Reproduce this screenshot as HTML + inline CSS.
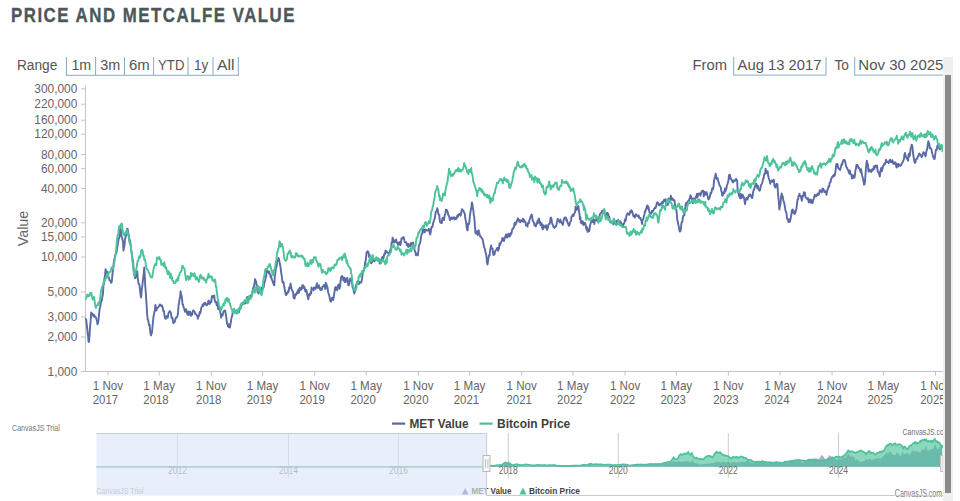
<!DOCTYPE html><html><head><meta charset="utf-8"><title>Price and Metcalfe Value</title><style>html,body{margin:0;padding:0;background:#fff;width:960px;height:501px;overflow:hidden;}svg{position:absolute;left:0;top:0;font-family:"Liberation Sans",sans-serif;}</style></head><body>
<svg width="960" height="501" viewBox="0 0 960 501">
<defs><clipPath id="plot"><rect x="85" y="80" width="858" height="292"/></clipPath><clipPath id="cv"><rect x="0" y="0" width="943" height="501"/></clipPath></defs>
<text transform="translate(11.0,21.7) scale(0.86,1)" font-size="19.6" font-weight="bold" fill="#4d5758" letter-spacing="1.75" stroke="#4d5758" stroke-width="0.35">PRICE AND METCALFE VALUE</text>
<text transform="translate(16.90,69.80) scale(0.8960,1)" font-size="15.3" font-weight="normal" fill="#555555" >Range</text>
<text transform="translate(71.40,69.80) scale(0.9315,1)" font-size="15.3" font-weight="normal" fill="#555555" >1m</text>
<text transform="translate(100.30,69.80) scale(0.9410,1)" font-size="15.3" font-weight="normal" fill="#555555" >3m</text>
<text transform="translate(128.90,69.80) scale(0.9786,1)" font-size="15.3" font-weight="normal" fill="#555555" >6m</text>
<text transform="translate(158.10,69.80) scale(0.8594,1)" font-size="15.3" font-weight="normal" fill="#555555" >YTD</text>
<text transform="translate(194.00,69.80) scale(0.8849,1)" font-size="15.3" font-weight="normal" fill="#555555" >1y</text>
<text transform="translate(216.90,69.80) scale(1.0291,1)" font-size="15.3" font-weight="normal" fill="#555555" >All</text>
<rect x="65.9" y="57" width="1" height="18.5" fill="#86acc6"/>
<rect x="95.1" y="57" width="1" height="18.5" fill="#86acc6"/>
<rect x="124.0" y="57" width="1" height="18.5" fill="#86acc6"/>
<rect x="153.1" y="57" width="1" height="18.5" fill="#86acc6"/>
<rect x="187.5" y="57" width="1" height="18.5" fill="#86acc6"/>
<rect x="212.5" y="57" width="1" height="18.5" fill="#86acc6"/>
<rect x="237.8" y="57" width="1" height="18.5" fill="#86acc6"/>
<rect x="65.9" y="74.8" width="172.9" height="1" fill="#86acc6"/>
<text transform="translate(692.60,69.80) scale(0.9637,1)" font-size="15.3" font-weight="normal" fill="#555555" >From</text>
<text transform="translate(834.50,69.80) scale(0.8973,1)" font-size="15.3" font-weight="normal" fill="#555555" >To</text>
<rect x="733.2" y="57" width="1" height="18" fill="#86acc6"/>
<rect x="825.5" y="57" width="1" height="18" fill="#86acc6"/>
<rect x="733.2" y="74.6" width="93.3" height="1" fill="#86acc6"/>
<rect x="854.2" y="57" width="1" height="18" fill="#86acc6"/>
<rect x="854.2" y="74.6" width="90" height="1" fill="#86acc6"/>
<g clip-path="url(#cv)">
<text transform="translate(737.60,69.80) scale(0.9668,1)" font-size="15.3" font-weight="normal" fill="#555555" >Aug 13 2017</text>
<text transform="translate(858.30,69.80) scale(0.9820,1)" font-size="15.3" font-weight="normal" fill="#555555" >Nov 30 2025</text>
</g>
<rect x="85" y="85.6" width="1" height="286.4" fill="#c4c4c4"/>
<rect x="81" y="88.4" width="4" height="1" fill="#c4c4c4"/>
<text transform="translate(34.36,93.00) scale(0.9900,1)" font-size="12" font-weight="normal" fill="#666666" >300,000</text>
<rect x="81" y="103.7" width="4" height="1" fill="#c4c4c4"/>
<text transform="translate(34.36,108.30) scale(0.9900,1)" font-size="12" font-weight="normal" fill="#666666" >220,000</text>
<rect x="81" y="119.7" width="4" height="1" fill="#c4c4c4"/>
<text transform="translate(34.36,124.30) scale(0.9900,1)" font-size="12" font-weight="normal" fill="#666666" >160,000</text>
<rect x="81" y="133.7" width="4" height="1" fill="#c4c4c4"/>
<text transform="translate(34.36,138.30) scale(0.9900,1)" font-size="12" font-weight="normal" fill="#666666" >120,000</text>
<rect x="81" y="154.1" width="4" height="1" fill="#c4c4c4"/>
<text transform="translate(40.96,158.70) scale(0.9900,1)" font-size="12" font-weight="normal" fill="#666666" >80,000</text>
<rect x="81" y="168.1" width="4" height="1" fill="#c4c4c4"/>
<text transform="translate(40.96,172.70) scale(0.9900,1)" font-size="12" font-weight="normal" fill="#666666" >60,000</text>
<rect x="81" y="188.0" width="4" height="1" fill="#c4c4c4"/>
<text transform="translate(40.96,192.60) scale(0.9900,1)" font-size="12" font-weight="normal" fill="#666666" >40,000</text>
<rect x="81" y="222.2" width="4" height="1" fill="#c4c4c4"/>
<text transform="translate(40.96,226.80) scale(0.9900,1)" font-size="12" font-weight="normal" fill="#666666" >20,000</text>
<rect x="81" y="236.5" width="4" height="1" fill="#c4c4c4"/>
<text transform="translate(40.96,241.10) scale(0.9900,1)" font-size="12" font-weight="normal" fill="#666666" >15,000</text>
<rect x="81" y="256.5" width="4" height="1" fill="#c4c4c4"/>
<text transform="translate(40.96,261.10) scale(0.9900,1)" font-size="12" font-weight="normal" fill="#666666" >10,000</text>
<rect x="81" y="291.5" width="4" height="1" fill="#c4c4c4"/>
<text transform="translate(47.57,296.10) scale(0.9900,1)" font-size="12" font-weight="normal" fill="#666666" >5,000</text>
<rect x="81" y="316.5" width="4" height="1" fill="#c4c4c4"/>
<text transform="translate(47.57,321.10) scale(0.9900,1)" font-size="12" font-weight="normal" fill="#666666" >3,000</text>
<rect x="81" y="336.5" width="4" height="1" fill="#c4c4c4"/>
<text transform="translate(47.57,341.10) scale(0.9900,1)" font-size="12" font-weight="normal" fill="#666666" >2,000</text>
<rect x="81" y="370.9" width="4" height="1" fill="#c4c4c4"/>
<text transform="translate(47.57,375.50) scale(0.9900,1)" font-size="12" font-weight="normal" fill="#666666" >1,000</text>
<text transform="translate(28.3,228.5) rotate(-90)" text-anchor="middle" font-size="14.3" fill="#666666">Value</text>
<rect x="85" y="371" width="858" height="1" fill="#c4c4c4"/>
<g clip-path="url(#cv)">
<rect x="107.5" y="371.5" width="1" height="4" fill="#c4c4c4"/>
<text transform="translate(92.75,389.50) scale(0.9700,1)" font-size="12" font-weight="normal" fill="#666666" >1 Nov</text>
<text transform="translate(92.75,403.50) scale(0.9500,1)" font-size="12" font-weight="normal" fill="#666666" >2017</text>
<rect x="158.7" y="371.5" width="1" height="4" fill="#c4c4c4"/>
<text transform="translate(143.37,389.50) scale(0.9700,1)" font-size="12" font-weight="normal" fill="#666666" >1 May</text>
<text transform="translate(143.37,403.50) scale(0.9500,1)" font-size="12" font-weight="normal" fill="#666666" >2018</text>
<rect x="210.8" y="371.5" width="1" height="4" fill="#c4c4c4"/>
<text transform="translate(196.12,389.50) scale(0.9700,1)" font-size="12" font-weight="normal" fill="#666666" >1 Nov</text>
<text transform="translate(196.12,403.50) scale(0.9500,1)" font-size="12" font-weight="normal" fill="#666666" >2018</text>
<rect x="262.1" y="371.5" width="1" height="4" fill="#c4c4c4"/>
<text transform="translate(246.73,389.50) scale(0.9700,1)" font-size="12" font-weight="normal" fill="#666666" >1 May</text>
<text transform="translate(246.73,403.50) scale(0.9500,1)" font-size="12" font-weight="normal" fill="#666666" >2019</text>
<rect x="314.2" y="371.5" width="1" height="4" fill="#c4c4c4"/>
<text transform="translate(299.49,389.50) scale(0.9700,1)" font-size="12" font-weight="normal" fill="#666666" >1 Nov</text>
<text transform="translate(299.49,403.50) scale(0.9500,1)" font-size="12" font-weight="normal" fill="#666666" >2019</text>
<rect x="365.7" y="371.5" width="1" height="4" fill="#c4c4c4"/>
<text transform="translate(350.39,389.50) scale(0.9700,1)" font-size="12" font-weight="normal" fill="#666666" >1 May</text>
<text transform="translate(350.39,403.50) scale(0.9500,1)" font-size="12" font-weight="normal" fill="#666666" >2020</text>
<rect x="417.8" y="371.5" width="1" height="4" fill="#c4c4c4"/>
<text transform="translate(403.14,389.50) scale(0.9700,1)" font-size="12" font-weight="normal" fill="#666666" >1 Nov</text>
<text transform="translate(403.14,403.50) scale(0.9500,1)" font-size="12" font-weight="normal" fill="#666666" >2020</text>
<rect x="469.1" y="371.5" width="1" height="4" fill="#c4c4c4"/>
<text transform="translate(453.75,389.50) scale(0.9700,1)" font-size="12" font-weight="normal" fill="#666666" >1 May</text>
<text transform="translate(453.75,403.50) scale(0.9500,1)" font-size="12" font-weight="normal" fill="#666666" >2021</text>
<rect x="521.2" y="371.5" width="1" height="4" fill="#c4c4c4"/>
<text transform="translate(506.51,389.50) scale(0.9700,1)" font-size="12" font-weight="normal" fill="#666666" >1 Nov</text>
<text transform="translate(506.51,403.50) scale(0.9500,1)" font-size="12" font-weight="normal" fill="#666666" >2021</text>
<rect x="572.5" y="371.5" width="1" height="4" fill="#c4c4c4"/>
<text transform="translate(557.12,389.50) scale(0.9700,1)" font-size="12" font-weight="normal" fill="#666666" >1 May</text>
<text transform="translate(557.12,403.50) scale(0.9500,1)" font-size="12" font-weight="normal" fill="#666666" >2022</text>
<rect x="624.6" y="371.5" width="1" height="4" fill="#c4c4c4"/>
<text transform="translate(609.88,389.50) scale(0.9700,1)" font-size="12" font-weight="normal" fill="#666666" >1 Nov</text>
<text transform="translate(609.88,403.50) scale(0.9500,1)" font-size="12" font-weight="normal" fill="#666666" >2022</text>
<rect x="675.8" y="371.5" width="1" height="4" fill="#c4c4c4"/>
<text transform="translate(660.49,389.50) scale(0.9700,1)" font-size="12" font-weight="normal" fill="#666666" >1 May</text>
<text transform="translate(660.49,403.50) scale(0.9500,1)" font-size="12" font-weight="normal" fill="#666666" >2023</text>
<rect x="727.9" y="371.5" width="1" height="4" fill="#c4c4c4"/>
<text transform="translate(713.24,389.50) scale(0.9700,1)" font-size="12" font-weight="normal" fill="#666666" >1 Nov</text>
<text transform="translate(713.24,403.50) scale(0.9500,1)" font-size="12" font-weight="normal" fill="#666666" >2023</text>
<rect x="779.5" y="371.5" width="1" height="4" fill="#c4c4c4"/>
<text transform="translate(764.14,389.50) scale(0.9700,1)" font-size="12" font-weight="normal" fill="#666666" >1 May</text>
<text transform="translate(764.14,403.50) scale(0.9500,1)" font-size="12" font-weight="normal" fill="#666666" >2024</text>
<rect x="831.6" y="371.5" width="1" height="4" fill="#c4c4c4"/>
<text transform="translate(816.89,389.50) scale(0.9700,1)" font-size="12" font-weight="normal" fill="#666666" >1 Nov</text>
<text transform="translate(816.89,403.50) scale(0.9500,1)" font-size="12" font-weight="normal" fill="#666666" >2024</text>
<rect x="882.9" y="371.5" width="1" height="4" fill="#c4c4c4"/>
<text transform="translate(867.51,389.50) scale(0.9700,1)" font-size="12" font-weight="normal" fill="#666666" >1 May</text>
<text transform="translate(867.51,403.50) scale(0.9500,1)" font-size="12" font-weight="normal" fill="#666666" >2025</text>
<rect x="935.0" y="371.5" width="1" height="4" fill="#c4c4c4"/>
<text transform="translate(920.26,389.50) scale(0.9700,1)" font-size="12" font-weight="normal" fill="#666666" >1 Nov</text>
<text transform="translate(920.26,403.50) scale(0.9500,1)" font-size="12" font-weight="normal" fill="#666666" >2025</text>
</g>
<g clip-path="url(#plot)" fill="none" stroke-width="1.9" stroke-linejoin="round">
<path d="M85.3,318.0 L85.8,319.4 L86.2,319.9 L86.7,324.4 L87.2,328.1 L87.6,332.6 L88.1,336.6 L88.5,341.6 L89.0,342.0 L89.5,336.2 L90.1,326.3 L90.7,320.4 L91.2,312.4 L91.7,313.3 L92.3,314.8 L92.8,314.2 L93.4,315.9 L93.9,314.8 L94.4,316.8 L94.9,316.4 L95.4,316.6 L96.0,317.7 L96.5,319.4 L97.0,321.1 L97.5,324.3 L98.0,323.0 L98.6,319.4 L99.1,313.3 L99.7,308.9 L100.2,306.5 L100.7,304.0 L101.3,299.9 L101.8,300.8 L102.4,296.5 L102.9,294.5 L103.4,286.1 L104.0,282.5 L104.5,278.7 L105.1,274.2 L105.6,269.3 L106.1,271.8 L106.7,273.3 L107.2,271.7 L107.8,273.7 L108.3,276.5 L108.8,277.6 L109.4,279.9 L109.9,280.8 L110.5,280.8 L111.0,282.9 L111.5,282.4 L111.9,280.9 L112.3,275.8 L112.8,271.7 L113.3,266.9 L113.9,261.6 L114.4,259.8 L114.9,256.9 L115.4,254.6 L116.0,253.2 L116.5,252.5 L117.0,249.4 L117.5,246.0 L118.0,243.2 L118.5,239.8 L118.9,238.2 L119.4,237.3 L119.9,230.6 L120.4,227.9 L120.9,231.4 L121.4,236.0 L122.0,237.3 L122.5,239.5 L123.0,241.6 L123.5,250.6 L124.0,247.7 L124.5,245.4 L125.0,239.0 L125.5,237.6 L126.1,234.8 L126.6,231.0 L127.1,228.6 L127.6,228.9 L128.1,232.5 L128.7,234.9 L129.2,238.5 L129.7,239.8 L130.3,243.0 L130.8,246.0 L131.3,250.4 L131.8,253.5 L132.2,256.6 L132.7,260.0 L133.2,262.7 L133.7,270.4 L134.1,273.3 L134.6,275.1 L135.1,278.3 L135.6,277.5 L136.2,271.9 L136.7,272.4 L137.2,271.2 L137.7,277.9 L138.2,281.5 L138.7,284.1 L139.1,284.0 L139.6,286.1 L140.1,290.7 L140.6,295.1 L141.1,297.5 L141.6,291.6 L142.2,286.7 L142.7,282.4 L143.2,278.2 L143.8,272.7 L144.3,267.4 L144.8,276.2 L145.2,285.5 L145.7,291.1 L146.2,299.3 L146.7,306.1 L147.1,313.4 L147.6,319.2 L148.1,320.0 L148.6,322.7 L149.1,325.6 L149.6,324.8 L150.0,329.8 L150.5,333.3 L151.0,335.4 L151.5,333.5 L152.0,332.6 L152.5,326.7 L153.0,321.7 L153.4,317.3 L153.9,314.9 L154.4,311.9 L154.9,309.9 L155.4,304.9 L155.9,308.0 L156.4,310.5 L156.9,308.1 L157.4,308.0 L157.9,307.6 L158.4,307.1 L158.9,306.1 L159.4,305.7 L159.9,304.4 L160.4,305.3 L160.9,305.5 L161.4,306.1 L161.9,305.3 L162.4,306.8 L162.9,308.8 L163.4,311.4 L163.9,310.9 L164.3,313.9 L164.8,317.0 L165.3,318.8 L165.8,318.8 L166.3,317.1 L166.8,316.1 L167.3,316.6 L167.8,317.7 L168.2,315.0 L168.7,312.4 L169.2,312.3 L169.7,311.1 L170.2,311.3 L170.7,312.4 L171.2,314.7 L171.6,317.9 L172.1,317.4 L172.6,318.2 L173.1,321.9 L173.6,323.2 L174.1,322.0 L174.6,322.1 L175.1,320.9 L175.6,318.3 L176.0,318.1 L176.5,317.0 L177.0,317.1 L177.5,315.7 L178.0,313.1 L178.5,305.7 L179.1,302.4 L179.6,299.0 L180.1,296.7 L180.6,291.3 L181.1,294.5 L181.6,295.7 L182.1,299.5 L182.5,304.3 L183.0,304.4 L183.5,307.1 L184.0,308.0 L184.5,309.9 L185.0,311.8 L185.6,311.2 L186.1,309.2 L186.6,311.0 L187.1,313.3 L187.6,314.6 L188.2,315.1 L188.7,311.4 L189.2,312.9 L189.7,314.5 L190.2,311.6 L190.7,313.7 L191.1,315.8 L191.6,314.9 L192.1,314.9 L192.6,312.3 L193.1,310.5 L193.6,310.6 L194.1,311.2 L194.7,312.0 L195.2,313.9 L195.7,313.7 L196.2,314.4 L196.7,315.4 L197.3,315.5 L197.8,318.7 L198.3,316.8 L198.8,316.3 L199.3,314.2 L199.7,311.9 L200.2,313.4 L200.7,311.6 L201.2,308.2 L201.7,306.8 L202.2,306.2 L202.6,304.8 L203.1,306.1 L203.6,303.4 L204.1,304.1 L204.6,304.4 L205.1,302.6 L205.7,303.7 L206.2,304.1 L206.7,305.4 L207.2,304.9 L207.7,304.7 L208.2,301.4 L208.7,300.5 L209.3,302.7 L209.8,304.0 L210.3,302.7 L210.8,301.2 L211.3,301.9 L211.8,296.9 L212.2,295.9 L212.7,297.3 L213.2,296.9 L213.7,296.6 L214.2,295.4 L214.7,300.7 L215.3,301.9 L215.8,301.4 L216.3,303.3 L216.8,305.4 L217.3,302.4 L217.8,306.9 L218.2,309.1 L218.7,306.1 L219.2,309.7 L219.7,307.8 L220.2,312.1 L220.6,313.5 L221.1,317.7 L221.6,314.9 L222.1,314.6 L222.6,315.5 L223.1,313.0 L223.6,311.4 L224.1,310.9 L224.6,310.8 L225.1,310.4 L225.6,313.1 L226.1,316.5 L226.5,318.7 L227.0,323.6 L227.5,323.3 L228.0,326.5 L228.5,325.3 L228.9,327.3 L229.4,324.5 L229.9,327.5 L230.4,324.7 L230.9,321.8 L231.3,319.0 L231.8,316.9 L232.3,315.3 L232.8,310.9 L233.3,311.6 L233.8,311.8 L234.4,311.7 L234.9,310.5 L235.4,311.1 L235.9,312.3 L236.4,311.5 L236.9,310.3 L237.4,312.4 L238.0,312.6 L238.5,312.3 L239.0,312.3 L239.5,308.9 L240.0,308.1 L240.5,308.8 L241.0,306.1 L241.6,305.0 L242.1,304.8 L242.6,304.3 L243.1,302.6 L243.6,303.8 L244.1,302.4 L244.5,302.9 L245.0,303.6 L245.5,303.1 L246.0,302.7 L246.5,299.4 L246.9,297.3 L247.4,297.1 L247.9,298.9 L248.4,300.9 L248.9,297.5 L249.4,298.0 L250.0,296.3 L250.5,295.4 L251.0,295.6 L251.5,296.7 L252.0,294.6 L252.5,293.6 L253.0,288.4 L253.6,287.5 L254.1,285.9 L254.6,282.4 L255.1,279.1 L255.6,280.9 L256.1,281.6 L256.5,284.3 L257.0,286.5 L257.5,291.8 L258.0,291.7 L258.5,293.6 L258.9,292.3 L259.4,291.7 L259.9,292.0 L260.4,289.7 L260.9,291.2 L261.3,291.0 L261.8,287.8 L262.3,289.5 L262.8,288.6 L263.3,287.1 L263.7,287.2 L264.2,283.2 L264.7,281.8 L265.2,280.5 L265.7,276.4 L266.1,276.8 L266.6,271.8 L267.1,270.7 L267.6,271.8 L268.1,271.2 L268.6,272.9 L269.2,271.7 L269.7,274.3 L270.2,274.1 L270.7,277.3 L271.2,275.9 L271.7,279.2 L272.2,280.3 L272.8,282.0 L273.3,283.3 L273.8,284.8 L274.3,285.3 L274.8,276.3 L275.2,274.4 L275.7,269.6 L276.2,267.3 L276.7,266.1 L277.1,261.7 L277.6,260.8 L278.1,259.9 L278.5,258.0 L279.0,259.2 L279.5,262.1 L280.0,264.4 L280.5,266.9 L281.1,272.6 L281.6,274.8 L282.1,279.5 L282.6,282.6 L283.1,281.5 L283.6,282.7 L284.1,285.9 L284.7,289.0 L285.2,292.0 L285.7,294.4 L286.2,295.1 L286.7,294.2 L287.2,292.6 L287.6,293.0 L288.1,290.9 L288.6,291.8 L289.1,287.5 L289.6,288.6 L290.0,287.4 L290.5,283.5 L291.0,285.9 L291.5,288.4 L292.0,290.3 L292.5,290.4 L293.1,292.5 L293.6,297.8 L294.1,297.7 L294.6,298.5 L295.1,294.9 L295.6,294.0 L296.0,294.8 L296.5,294.2 L297.0,292.5 L297.5,291.3 L298.0,293.1 L298.4,289.5 L298.9,292.7 L299.4,289.6 L299.9,287.6 L300.4,289.4 L300.8,289.9 L301.3,287.4 L301.8,288.9 L302.3,285.4 L302.8,285.0 L303.2,288.0 L303.7,287.1 L304.2,286.4 L304.7,288.2 L305.2,291.1 L305.7,291.8 L306.3,290.0 L306.8,292.0 L307.3,295.0 L307.8,296.9 L308.3,299.4 L308.8,296.5 L309.2,294.4 L309.7,293.7 L310.2,294.9 L310.7,291.8 L311.2,293.4 L311.6,287.4 L312.1,289.7 L312.6,289.1 L313.1,289.3 L313.6,290.2 L314.0,287.5 L314.5,287.7 L315.0,288.3 L315.5,289.0 L316.0,286.8 L316.4,285.5 L316.9,283.2 L317.4,287.7 L317.9,287.9 L318.4,287.4 L318.9,285.2 L319.3,288.0 L319.8,287.2 L320.3,290.0 L320.8,288.9 L321.3,289.3 L321.8,289.8 L322.3,287.0 L322.8,286.8 L323.3,286.3 L323.8,284.9 L324.3,286.2 L324.8,286.5 L325.3,289.1 L325.8,282.8 L326.3,283.8 L326.8,286.1 L327.3,286.4 L327.8,289.9 L328.2,292.4 L328.7,294.0 L329.2,295.2 L329.8,298.3 L330.3,301.0 L330.9,301.8 L331.4,300.4 L331.8,298.6 L332.3,297.7 L332.7,299.2 L333.2,300.0 L333.7,297.4 L334.2,293.5 L334.6,291.2 L335.1,287.7 L335.6,286.9 L336.1,287.8 L336.6,290.0 L337.1,290.3 L337.6,287.0 L338.0,285.9 L338.5,284.5 L339.0,285.7 L339.5,288.9 L340.0,286.6 L340.5,281.7 L340.9,278.8 L341.4,276.4 L341.8,277.1 L342.3,276.1 L342.8,277.1 L343.3,280.5 L343.8,278.4 L344.4,277.7 L344.9,282.1 L345.4,282.1 L345.9,280.9 L346.4,278.5 L346.9,278.8 L347.3,277.9 L347.8,282.0 L348.3,285.4 L348.8,285.3 L349.3,283.1 L349.7,280.5 L350.2,278.4 L350.7,279.3 L351.2,278.9 L351.7,282.1 L352.2,284.5 L352.8,287.7 L353.3,288.7 L353.8,291.6 L354.3,293.5 L354.8,291.9 L355.3,289.1 L355.8,287.3 L356.4,284.3 L356.9,283.2 L357.4,281.6 L357.9,280.9 L358.4,283.0 L358.9,284.1 L359.4,281.8 L360.0,282.4 L360.5,282.2 L361.0,282.8 L361.5,281.3 L362.0,279.2 L362.5,275.2 L363.0,271.4 L363.6,270.8 L364.1,269.8 L364.6,266.9 L365.1,262.4 L365.6,261.1 L366.1,257.5 L366.5,252.5 L367.0,252.9 L367.5,251.1 L368.0,251.8 L368.5,252.2 L369.0,256.8 L369.6,254.9 L370.1,260.5 L370.6,262.2 L371.1,263.3 L371.6,262.9 L372.1,262.0 L372.5,260.7 L373.0,260.9 L373.5,260.4 L374.0,259.1 L374.5,261.3 L374.9,259.2 L375.4,258.6 L375.9,259.6 L376.4,259.0 L376.9,258.9 L377.3,260.3 L377.8,259.9 L378.3,258.4 L378.8,259.6 L379.3,260.2 L379.7,263.6 L380.2,261.0 L380.7,262.3 L381.2,260.1 L381.7,258.6 L382.1,257.3 L382.6,257.0 L383.1,257.3 L383.6,258.2 L384.1,254.2 L384.5,254.8 L385.0,253.9 L385.5,250.7 L386.0,250.6 L386.5,252.4 L387.0,252.0 L387.6,252.8 L388.1,252.5 L388.6,254.0 L389.1,254.2 L389.6,254.2 L390.1,250.2 L390.6,249.0 L391.1,248.0 L391.6,242.6 L392.1,242.6 L392.6,237.6 L393.1,238.9 L393.6,240.3 L394.1,242.7 L394.6,242.2 L395.1,241.1 L395.6,240.3 L396.1,239.5 L396.6,242.6 L397.1,242.9 L397.6,242.5 L398.1,244.7 L398.6,244.8 L399.1,243.0 L399.6,242.1 L400.0,244.5 L400.5,245.1 L401.0,242.3 L401.5,238.3 L402.0,238.8 L402.4,238.3 L402.9,238.0 L403.4,237.0 L403.9,237.8 L404.4,240.4 L404.8,242.0 L405.3,242.4 L405.8,242.1 L406.3,242.4 L406.8,245.0 L407.2,243.9 L407.7,245.5 L408.2,247.0 L408.7,244.0 L409.2,246.0 L409.6,245.7 L410.1,245.5 L410.6,246.4 L411.1,242.9 L411.6,243.2 L412.0,243.6 L412.5,244.5 L413.0,242.4 L413.5,244.6 L414.0,246.0 L414.4,249.2 L414.9,251.1 L415.4,251.7 L415.9,255.3 L416.4,254.3 L416.8,253.7 L417.3,254.3 L417.8,255.4 L418.3,251.9 L418.8,246.3 L419.3,244.8 L419.9,243.3 L420.4,241.9 L420.9,237.6 L421.4,235.0 L421.9,233.9 L422.4,233.2 L422.8,229.8 L423.3,229.6 L423.8,229.3 L424.3,232.4 L424.8,232.3 L425.2,229.4 L425.7,230.3 L426.2,229.8 L426.7,230.1 L427.2,230.6 L427.7,230.6 L428.3,230.5 L428.8,228.8 L429.3,230.8 L429.8,233.4 L430.3,234.5 L430.8,231.3 L431.2,228.2 L431.7,226.8 L432.2,227.2 L432.7,225.8 L433.1,222.9 L433.6,222.0 L434.1,219.9 L434.6,218.9 L435.1,216.0 L435.7,211.9 L436.2,211.3 L436.7,211.2 L437.2,208.3 L437.7,209.7 L438.2,213.4 L438.7,214.2 L439.3,215.2 L439.8,220.8 L440.3,222.6 L440.8,222.8 L441.3,221.2 L441.8,223.1 L442.3,218.5 L442.9,217.7 L443.4,218.9 L443.9,220.1 L444.4,217.0 L444.9,214.5 L445.4,213.9 L445.8,209.6 L446.3,210.8 L446.8,210.1 L447.3,210.7 L447.8,212.9 L448.3,215.0 L448.9,215.9 L449.4,217.3 L449.9,220.2 L450.4,218.5 L450.9,218.8 L451.4,217.5 L451.9,219.1 L452.5,217.7 L453.0,218.2 L453.5,217.9 L454.0,217.2 L454.5,219.6 L455.0,217.7 L455.5,218.9 L456.0,218.4 L456.5,218.8 L457.0,216.5 L457.5,215.3 L458.0,216.8 L458.5,214.5 L459.0,214.7 L459.6,214.1 L460.1,213.8 L460.6,215.7 L461.1,213.5 L461.6,210.7 L462.1,209.1 L462.6,210.3 L463.2,210.5 L463.7,211.5 L464.2,212.8 L464.7,213.2 L465.2,217.6 L465.7,220.7 L466.1,222.0 L466.6,226.4 L467.1,229.7 L467.6,230.4 L468.1,223.8 L468.5,224.0 L469.0,224.2 L469.5,220.3 L470.0,215.2 L470.5,211.8 L470.9,209.8 L471.4,206.9 L471.9,202.5 L472.4,203.8 L472.9,209.1 L473.3,209.6 L473.8,215.6 L474.3,217.3 L474.9,226.3 L475.5,233.3 L476.0,231.9 L476.5,233.6 L477.0,231.1 L477.6,235.2 L478.1,231.8 L478.6,230.3 L479.1,232.3 L479.6,234.0 L480.1,236.2 L480.6,236.2 L481.2,237.1 L481.7,238.1 L482.2,238.7 L482.7,239.6 L483.2,242.3 L483.7,245.1 L484.2,247.4 L484.8,248.4 L485.3,251.2 L485.8,253.3 L486.3,255.4 L486.9,261.8 L487.5,264.5 L488.0,261.7 L488.5,257.6 L489.0,255.3 L489.6,255.6 L490.1,250.4 L490.6,248.0 L491.1,245.4 L491.6,248.6 L492.1,248.6 L492.5,248.4 L493.0,252.7 L493.5,255.1 L494.0,253.4 L494.5,254.5 L495.0,251.5 L495.6,250.3 L496.1,250.0 L496.6,249.7 L497.1,248.0 L497.6,248.8 L498.1,250.9 L498.5,247.5 L499.0,248.9 L499.5,243.2 L500.0,245.3 L500.5,243.3 L500.9,242.7 L501.4,241.4 L501.9,240.7 L502.4,237.9 L502.9,238.1 L503.5,240.5 L504.0,241.1 L504.5,238.9 L505.0,237.3 L505.6,235.9 L506.1,234.2 L506.6,236.7 L507.1,237.7 L507.6,236.8 L508.0,235.3 L508.5,233.6 L509.0,236.2 L509.5,236.6 L510.0,234.0 L510.4,235.5 L510.9,233.0 L511.4,233.9 L511.9,230.8 L512.4,229.1 L512.9,228.8 L513.5,227.7 L514.0,227.2 L514.5,223.3 L515.0,222.6 L515.5,224.9 L516.0,223.0 L516.4,222.7 L516.9,220.5 L517.4,220.2 L517.9,218.2 L518.4,219.2 L518.8,219.8 L519.3,221.7 L519.8,220.2 L520.3,222.3 L520.8,220.9 L521.3,220.5 L521.9,220.3 L522.4,221.3 L522.9,218.6 L523.4,221.8 L523.9,219.7 L524.4,220.5 L524.9,221.9 L525.5,222.0 L526.0,225.5 L526.5,224.8 L527.0,225.1 L527.5,226.6 L528.0,223.2 L528.4,222.5 L528.9,223.0 L529.4,220.2 L529.9,219.0 L530.4,217.0 L530.8,216.4 L531.3,215.0 L531.8,214.6 L532.3,217.8 L532.8,221.0 L533.3,221.4 L533.9,222.6 L534.4,225.1 L534.9,225.4 L535.4,226.2 L535.9,226.4 L536.4,223.3 L536.9,224.0 L537.5,220.9 L538.0,223.0 L538.5,219.0 L539.0,218.6 L539.5,222.7 L540.0,221.3 L540.5,225.1 L541.1,224.3 L541.6,223.2 L542.1,227.2 L542.6,229.3 L543.1,229.1 L543.6,225.1 L544.0,226.8 L544.5,227.3 L545.0,227.3 L545.5,227.5 L546.0,225.2 L546.4,225.9 L546.9,229.9 L547.4,229.2 L547.9,227.8 L548.4,224.6 L548.9,224.0 L549.5,223.9 L550.0,222.6 L550.5,218.2 L551.0,217.5 L551.5,219.0 L552.0,222.5 L552.5,224.6 L553.1,225.3 L553.6,227.4 L554.1,226.6 L554.6,227.9 L555.1,227.0 L555.6,226.4 L556.1,226.4 L556.7,223.2 L557.2,221.5 L557.7,218.6 L558.2,220.7 L558.7,220.6 L559.2,220.9 L559.7,222.4 L560.3,219.4 L560.8,221.2 L561.3,222.5 L561.8,223.3 L562.3,223.5 L562.8,224.9 L563.3,221.8 L563.9,219.1 L564.4,217.8 L564.9,217.8 L565.4,217.7 L565.9,217.5 L566.4,220.6 L566.9,219.5 L567.5,222.4 L568.0,223.7 L568.5,224.9 L569.0,225.9 L569.5,224.9 L570.0,222.5 L570.5,221.6 L571.0,221.0 L571.5,216.7 L572.0,216.3 L572.5,214.7 L573.0,214.8 L573.5,216.0 L574.0,214.3 L574.6,212.8 L575.1,212.2 L575.6,206.7 L576.1,210.0 L576.6,210.0 L577.1,209.3 L577.5,207.8 L578.0,206.1 L578.5,206.4 L579.0,211.5 L579.5,214.0 L579.9,219.1 L580.4,217.4 L580.9,222.9 L581.4,223.0 L581.9,223.5 L582.4,221.3 L583.0,221.8 L583.5,225.1 L584.0,222.9 L584.5,224.0 L585.0,222.9 L585.5,224.5 L586.0,227.6 L586.6,229.7 L587.1,227.1 L587.6,231.8 L588.1,231.8 L588.6,229.4 L589.1,231.2 L589.6,228.7 L590.2,224.9 L590.7,223.3 L591.2,221.7 L591.7,221.5 L592.2,220.2 L592.7,222.1 L593.2,222.0 L593.8,219.2 L594.3,224.0 L594.8,220.4 L595.3,220.0 L595.8,219.7 L596.3,220.5 L596.8,219.0 L597.4,219.3 L597.9,221.8 L598.4,219.8 L598.9,217.3 L599.4,216.6 L599.9,214.3 L600.4,213.3 L601.0,213.1 L601.5,212.7 L602.0,211.1 L602.5,210.7 L603.0,211.3 L603.5,209.8 L604.0,212.8 L604.6,212.7 L605.1,215.4 L605.6,214.3 L606.1,215.3 L606.6,216.7 L607.1,212.8 L607.6,213.0 L608.2,214.1 L608.7,218.8 L609.2,216.4 L609.7,219.9 L610.2,221.9 L610.7,222.2 L611.1,222.8 L611.6,221.5 L612.1,221.8 L612.6,222.4 L613.1,223.3 L613.5,224.3 L614.0,223.6 L614.5,223.2 L615.0,222.3 L615.5,223.7 L615.9,221.3 L616.4,220.8 L616.9,221.9 L617.4,222.3 L617.9,222.9 L618.3,219.7 L618.8,221.7 L619.3,224.1 L619.8,224.8 L620.3,221.5 L620.9,222.4 L621.4,223.9 L621.9,224.7 L622.4,226.1 L623.0,226.5 L623.5,223.4 L624.0,223.8 L624.5,222.0 L625.0,219.5 L625.5,221.1 L626.1,217.9 L626.6,215.3 L627.1,214.0 L627.6,213.3 L628.1,214.0 L628.6,213.7 L629.1,214.9 L629.7,213.8 L630.2,211.3 L630.7,212.4 L631.2,210.2 L631.7,210.5 L632.2,211.7 L632.7,213.1 L633.3,216.1 L633.8,215.4 L634.3,217.0 L634.8,217.6 L635.3,215.3 L635.8,214.2 L636.3,214.8 L636.9,215.9 L637.4,216.2 L637.9,216.4 L638.4,215.3 L638.9,216.1 L639.4,218.3 L639.9,217.9 L640.5,217.9 L641.0,220.1 L641.5,220.2 L642.0,224.0 L642.5,220.7 L643.0,219.3 L643.4,218.6 L643.9,216.2 L644.4,214.8 L644.9,211.2 L645.4,211.5 L645.8,209.2 L646.3,209.2 L646.8,206.5 L647.3,205.4 L647.8,208.6 L648.3,206.5 L648.9,209.2 L649.4,211.8 L649.9,213.6 L650.4,214.3 L650.9,213.3 L651.4,213.2 L651.9,210.9 L652.5,212.0 L653.0,210.9 L653.5,210.0 L654.0,208.9 L654.5,208.6 L655.0,207.5 L655.5,208.0 L656.1,206.7 L656.6,203.8 L657.1,202.5 L657.6,202.3 L658.1,202.7 L658.6,204.1 L659.0,205.4 L659.5,205.4 L660.0,204.9 L660.5,203.7 L661.0,204.1 L661.5,203.8 L662.1,202.0 L662.6,203.8 L663.1,202.2 L663.6,200.9 L664.1,199.8 L664.6,201.3 L665.1,199.8 L665.7,199.3 L666.2,203.8 L666.7,205.1 L667.2,203.2 L667.7,205.1 L668.2,203.3 L668.7,198.5 L669.3,200.1 L669.8,200.5 L670.3,199.2 L670.8,195.7 L671.3,197.7 L671.8,199.9 L672.3,198.4 L672.9,198.8 L673.4,200.3 L673.9,200.0 L674.4,200.5 L674.9,203.9 L675.4,207.3 L675.8,209.5 L676.3,209.6 L676.8,213.6 L677.3,220.4 L677.8,221.3 L678.3,224.6 L678.9,227.2 L679.4,230.6 L679.9,231.6 L680.4,231.2 L680.9,228.9 L681.4,223.4 L681.8,222.1 L682.3,222.0 L682.8,218.1 L683.3,215.7 L683.8,215.6 L684.3,215.3 L684.8,210.6 L685.3,207.7 L685.8,203.3 L686.3,203.7 L686.8,202.8 L687.3,205.4 L687.8,201.2 L688.4,202.5 L688.9,201.2 L689.4,198.6 L689.9,198.5 L690.4,195.3 L690.9,196.3 L691.4,197.2 L692.0,200.7 L692.5,201.9 L693.0,203.2 L693.5,198.4 L694.0,200.3 L694.5,200.7 L694.9,199.4 L695.4,198.4 L695.9,196.9 L696.4,195.8 L696.9,193.8 L697.3,197.6 L697.8,195.6 L698.3,194.2 L698.8,193.5 L699.3,193.5 L699.8,193.5 L700.4,195.8 L700.9,193.8 L701.4,192.2 L701.9,191.2 L702.4,190.9 L702.9,190.5 L703.3,191.3 L703.8,196.3 L704.3,194.5 L704.8,191.7 L705.3,194.6 L705.7,194.4 L706.2,194.2 L706.7,192.2 L707.2,195.2 L707.7,196.2 L708.1,198.4 L708.6,199.5 L709.1,198.6 L709.6,197.4 L710.1,195.6 L710.5,193.0 L711.0,193.8 L711.5,192.0 L712.0,189.4 L712.5,188.0 L713.0,189.3 L713.5,186.7 L714.1,180.6 L714.6,178.0 L715.1,176.8 L715.6,173.6 L716.1,175.7 L716.6,178.6 L717.2,179.3 L717.7,178.2 L718.2,181.2 L718.7,182.0 L719.2,184.4 L719.7,185.6 L720.2,186.1 L720.8,187.6 L721.3,190.9 L721.8,192.5 L722.3,195.8 L722.8,195.5 L723.3,193.1 L723.8,192.1 L724.4,193.1 L724.9,188.4 L725.4,191.5 L725.9,190.0 L726.4,188.7 L726.9,185.7 L727.4,184.3 L728.0,182.3 L728.5,180.1 L729.0,175.2 L729.5,174.8 L730.0,174.9 L730.5,178.9 L731.0,178.2 L731.6,180.0 L732.1,180.8 L732.6,182.1 L733.1,182.5 L733.6,180.4 L734.1,181.3 L734.6,181.0 L735.1,180.5 L735.6,179.4 L736.1,178.8 L736.6,179.9 L737.1,180.4 L737.6,188.6 L738.1,192.8 L738.7,193.6 L739.2,196.5 L739.7,196.7 L740.2,198.5 L740.7,193.8 L741.2,195.6 L741.6,198.1 L742.1,196.5 L742.6,194.7 L743.1,196.0 L743.6,196.9 L744.0,197.6 L744.5,200.8 L745.0,204.2 L745.5,201.3 L746.0,199.5 L746.5,197.9 L747.1,198.3 L747.6,199.5 L748.1,197.0 L748.6,196.2 L749.1,194.8 L749.6,195.9 L750.1,194.4 L750.7,195.3 L751.2,196.4 L751.7,197.8 L752.2,198.1 L752.7,195.6 L753.2,191.5 L753.7,190.1 L754.3,189.1 L754.8,186.1 L755.3,186.0 L755.8,184.0 L756.3,183.6 L756.8,185.7 L757.3,188.4 L757.9,185.7 L758.4,188.3 L758.9,189.6 L759.4,190.7 L759.9,190.4 L760.4,188.4 L760.9,185.5 L761.5,184.5 L762.0,183.3 L762.5,182.0 L763.0,178.8 L763.5,178.8 L764.0,175.2 L764.5,174.0 L765.1,173.8 L765.6,168.6 L766.1,173.2 L766.6,171.1 L767.1,171.3 L767.6,171.2 L768.1,175.3 L768.7,178.0 L769.2,179.3 L769.7,181.1 L770.2,183.7 L770.7,181.4 L771.2,181.7 L771.7,180.6 L772.3,181.8 L772.8,180.8 L773.3,180.3 L773.8,179.7 L774.4,185.4 L775.0,187.2 L775.5,187.5 L776.0,186.1 L776.4,184.2 L776.9,183.7 L777.4,184.5 L777.9,191.5 L778.3,197.2 L778.8,201.8 L779.3,209.5 L779.8,206.0 L780.3,204.9 L780.7,201.6 L781.2,195.6 L781.7,193.5 L782.2,195.6 L782.7,196.3 L783.2,199.6 L783.6,201.4 L784.1,202.3 L784.6,205.0 L785.1,208.1 L785.6,211.1 L786.0,211.9 L786.5,213.3 L787.0,217.9 L787.5,219.5 L788.0,219.1 L788.5,222.1 L788.9,221.0 L789.4,219.6 L789.9,221.7 L790.4,219.5 L790.8,217.7 L791.3,215.3 L791.7,211.4 L792.2,209.8 L792.7,209.4 L793.3,212.8 L793.8,210.9 L794.3,213.9 L794.9,213.8 L795.4,212.7 L795.9,210.4 L796.4,209.0 L796.9,204.8 L797.5,199.6 L798.0,199.6 L798.5,196.2 L799.0,196.0 L799.5,193.8 L799.9,196.0 L800.4,196.4 L800.9,196.0 L801.3,198.1 L801.8,200.8 L802.3,198.3 L802.8,195.7 L803.3,195.9 L803.9,192.2 L804.4,193.2 L804.9,192.7 L805.4,196.6 L805.9,197.8 L806.4,198.1 L807.0,198.8 L807.5,199.3 L808.0,198.1 L808.5,201.4 L809.0,202.5 L809.5,201.3 L810.0,199.4 L810.6,202.5 L811.1,202.6 L811.6,199.9 L812.1,201.2 L812.6,203.2 L813.1,200.5 L813.6,199.3 L814.2,196.9 L814.7,194.9 L815.2,196.0 L815.7,195.4 L816.2,196.5 L816.7,194.7 L817.2,195.1 L817.8,193.6 L818.3,194.3 L818.8,194.7 L819.3,192.4 L819.8,190.1 L820.3,190.5 L820.8,191.8 L821.4,191.3 L821.9,192.4 L822.4,188.5 L822.9,189.1 L823.4,189.0 L823.9,190.5 L824.4,191.9 L825.0,191.1 L825.5,192.3 L826.0,191.8 L826.5,194.8 L827.0,191.4 L827.5,189.6 L828.0,188.9 L828.6,186.3 L829.1,186.8 L829.6,183.4 L830.1,182.2 L830.6,182.0 L831.1,179.1 L831.6,178.4 L832.2,176.7 L832.7,176.2 L833.2,175.6 L833.7,176.6 L834.2,174.8 L834.7,175.5 L835.2,173.3 L835.8,168.7 L836.3,164.1 L836.8,165.6 L837.3,164.0 L837.8,165.2 L838.2,168.0 L838.7,168.7 L839.2,168.6 L839.6,168.9 L840.1,170.0 L840.6,168.0 L841.2,165.7 L841.7,164.0 L842.2,164.8 L842.8,161.6 L843.3,160.4 L843.8,159.8 L844.3,160.5 L844.8,160.3 L845.4,162.6 L845.9,165.6 L846.4,167.0 L846.9,167.4 L847.4,169.2 L847.9,169.4 L848.4,171.1 L848.9,172.3 L849.4,173.8 L849.9,170.4 L850.4,173.6 L850.9,174.2 L851.4,174.6 L851.9,178.5 L852.5,176.6 L853.0,175.3 L853.5,177.9 L854.0,176.5 L854.5,177.7 L855.0,174.3 L855.4,170.5 L855.9,168.9 L856.4,165.0 L856.9,164.8 L857.4,165.0 L857.9,165.9 L858.5,168.2 L859.0,167.7 L859.5,169.0 L860.0,169.1 L860.5,172.2 L861.1,169.2 L861.6,172.5 L862.2,175.7 L862.7,177.7 L863.2,180.1 L863.6,181.5 L864.0,184.6 L864.5,184.4 L865.0,181.4 L865.4,175.6 L865.9,168.9 L866.3,164.7 L866.8,160.8 L867.3,163.0 L867.9,164.4 L868.5,171.6 L869.0,169.2 L869.5,171.3 L870.1,170.1 L870.6,170.1 L871.2,172.0 L871.7,171.3 L872.2,169.2 L872.8,170.2 L873.3,169.6 L873.9,166.3 L874.4,168.9 L874.9,166.3 L875.5,165.5 L876.0,166.7 L876.6,166.7 L877.1,165.6 L877.6,171.1 L878.2,172.3 L878.7,172.4 L879.3,174.8 L879.8,176.5 L880.3,171.6 L880.8,169.3 L881.3,167.7 L881.9,171.4 L882.4,169.0 L882.9,166.9 L883.4,165.4 L883.9,165.3 L884.4,163.4 L885.0,164.3 L885.5,162.6 L886.0,159.7 L886.5,161.3 L887.1,162.1 L887.6,161.8 L888.2,162.6 L888.7,163.1 L889.2,161.0 L889.7,160.0 L890.2,159.7 L890.8,162.0 L891.3,161.5 L891.8,162.3 L892.3,160.1 L892.8,162.8 L893.4,163.7 L893.9,162.1 L894.5,163.8 L895.0,163.1 L895.5,162.4 L896.0,164.8 L896.5,167.5 L897.1,164.0 L897.6,166.6 L898.1,166.5 L898.6,163.9 L899.1,164.7 L899.7,165.4 L900.2,166.0 L900.8,165.3 L901.3,165.1 L901.8,162.9 L902.3,162.9 L902.8,161.9 L903.4,160.3 L903.9,159.3 L904.4,154.7 L904.9,153.0 L905.4,154.6 L906.0,157.0 L906.5,157.5 L907.1,158.8 L907.6,158.8 L908.1,160.8 L908.6,154.2 L909.1,153.5 L909.6,156.3 L910.1,153.6 L910.6,148.3 L911.1,148.0 L911.6,144.7 L912.1,145.2 L912.6,148.3 L913.2,154.6 L913.7,157.5 L914.3,160.8 L914.8,162.9 L915.3,162.8 L915.9,159.8 L916.4,159.0 L917.0,158.8 L917.5,157.5 L918.0,156.2 L918.5,156.0 L919.0,153.9 L919.6,153.6 L920.1,154.7 L920.6,154.7 L921.1,155.6 L921.6,157.1 L922.2,156.1 L922.7,154.8 L923.3,152.2 L923.8,152.4 L924.2,153.4 L924.7,153.2 L925.1,155.6 L925.6,156.2 L926.1,153.0 L926.7,150.1 L927.2,148.8 L927.8,144.5 L928.3,141.2 L928.8,142.9 L929.4,144.4 L929.9,148.4 L930.5,148.1 L931.0,148.5 L931.5,149.7 L932.0,152.6 L932.6,154.6 L933.1,157.1 L933.6,157.2 L934.1,159.1 L934.7,158.7 L935.2,154.9 L935.8,150.3 L936.3,149.5 L936.8,149.7 L937.4,145.6 L937.9,146.9 L938.5,145.0 L939.0,147.5 L939.5,149.1 L940.1,149.4 L940.6,145.5 L941.2,147.8 L941.7,145.9" stroke="#5a6aa6"/>
<path d="M85.3,298.9 L85.8,299.0 L86.3,297.6 L86.8,296.5 L87.3,294.6 L87.8,294.5 L88.3,296.2 L88.8,295.6 L89.3,296.0 L89.8,294.6 L90.3,292.8 L90.8,294.6 L91.3,292.6 L91.8,296.2 L92.3,298.1 L92.8,299.6 L93.3,297.4 L93.8,296.8 L94.3,298.5 L94.8,302.3 L95.2,304.8 L95.7,307.9 L96.2,307.7 L96.7,305.4 L97.2,305.3 L97.8,304.9 L98.3,302.6 L98.8,304.7 L99.3,302.0 L99.8,301.5 L100.4,296.1 L100.9,291.8 L101.5,288.9 L102.0,286.8 L102.5,286.3 L103.1,284.9 L103.6,282.5 L104.2,279.7 L104.7,279.5 L105.2,280.4 L105.7,277.9 L106.1,278.0 L106.6,278.0 L107.1,274.6 L107.6,275.0 L108.1,276.9 L108.6,272.2 L109.0,272.2 L109.5,272.2 L110.0,272.1 L110.5,271.6 L110.9,270.6 L111.4,267.5 L111.9,269.1 L112.3,269.2 L112.8,267.8 L113.3,268.3 L113.9,265.0 L114.4,261.8 L115.0,256.8 L115.5,256.1 L116.0,251.1 L116.4,246.7 L116.9,241.2 L117.3,236.8 L117.8,234.9 L118.3,234.6 L118.8,228.9 L119.3,226.0 L119.9,226.3 L120.4,227.4 L120.9,224.4 L121.4,224.1 L121.9,223.5 L122.5,228.9 L123.0,231.1 L123.5,234.7 L124.0,234.8 L124.5,235.5 L125.0,233.9 L125.4,232.8 L125.9,232.1 L126.4,233.1 L126.9,229.8 L127.4,233.2 L127.8,235.0 L128.3,233.6 L128.8,238.5 L129.3,241.5 L129.7,243.3 L130.2,242.7 L130.7,245.0 L131.1,251.1 L131.6,251.8 L132.0,256.6 L132.5,262.2 L133.0,263.8 L133.5,270.7 L134.0,274.2 L134.5,276.2 L135.0,274.3 L135.6,272.4 L136.1,269.3 L136.6,268.2 L137.2,263.4 L137.7,260.6 L138.2,261.0 L138.7,259.1 L139.2,256.2 L139.7,257.0 L140.2,257.6 L140.7,254.3 L141.2,250.5 L141.7,250.1 L142.2,249.8 L142.7,251.2 L143.2,255.9 L143.7,255.4 L144.3,259.9 L144.8,259.1 L145.3,260.5 L145.8,264.4 L146.3,267.4 L146.8,269.0 L147.3,269.5 L147.8,270.1 L148.3,270.9 L148.7,272.6 L149.2,272.8 L149.7,274.2 L150.2,275.9 L150.7,276.5 L151.2,277.5 L151.7,276.9 L152.2,277.5 L152.7,274.1 L153.3,270.4 L153.8,267.7 L154.3,266.0 L154.8,264.8 L155.3,263.8 L155.8,263.5 L156.3,265.3 L156.8,258.7 L157.3,257.4 L157.8,258.5 L158.3,258.9 L158.8,258.4 L159.3,257.1 L159.8,259.0 L160.3,260.1 L160.8,259.8 L161.3,264.9 L161.8,264.6 L162.3,263.5 L162.8,264.2 L163.3,264.8 L163.8,266.1 L164.3,262.3 L164.8,264.4 L165.3,268.1 L165.8,266.8 L166.3,268.2 L166.8,270.8 L167.3,272.3 L167.8,274.3 L168.3,271.3 L168.8,271.6 L169.3,272.7 L169.8,275.4 L170.3,278.0 L170.8,273.8 L171.3,278.3 L171.8,277.0 L172.3,280.4 L172.8,280.8 L173.3,280.8 L173.9,283.3 L174.4,282.6 L174.9,282.5 L175.4,282.9 L175.9,281.4 L176.4,279.8 L176.8,281.1 L177.3,280.5 L177.8,277.5 L178.3,280.4 L178.8,275.2 L179.3,275.4 L179.8,273.1 L180.3,272.1 L180.8,272.0 L181.2,270.7 L181.7,270.3 L182.2,266.1 L182.7,265.8 L183.2,267.6 L183.7,267.8 L184.2,268.6 L184.6,269.0 L185.1,274.3 L185.6,276.8 L186.1,280.0 L186.6,278.4 L187.1,278.1 L187.6,275.9 L188.1,277.7 L188.6,279.8 L189.0,276.7 L189.5,278.9 L190.0,278.9 L190.5,276.9 L191.0,272.9 L191.5,276.1 L192.0,275.1 L192.4,273.7 L192.9,274.4 L193.4,274.6 L193.9,276.3 L194.4,273.1 L194.9,275.7 L195.4,278.1 L195.9,279.6 L196.4,278.1 L196.8,276.9 L197.3,279.5 L197.8,279.8 L198.3,279.9 L198.8,282.1 L199.3,280.2 L199.7,275.9 L200.2,276.7 L200.7,274.6 L201.2,277.8 L201.7,278.4 L202.2,277.2 L202.6,277.4 L203.1,278.8 L203.6,277.7 L204.1,280.1 L204.6,279.0 L205.1,280.2 L205.7,281.7 L206.2,282.7 L206.7,279.6 L207.2,279.3 L207.7,276.6 L208.2,275.7 L208.6,273.8 L209.1,277.7 L209.6,275.9 L210.1,276.8 L210.6,277.0 L211.0,277.3 L211.5,276.4 L212.0,277.4 L212.5,280.7 L213.0,279.7 L213.4,280.3 L213.9,281.5 L214.4,280.4 L214.9,279.4 L215.4,281.2 L215.9,286.8 L216.3,286.7 L216.8,291.3 L217.3,295.2 L217.8,298.9 L218.3,300.9 L218.9,304.5 L219.4,306.7 L219.9,306.9 L220.4,310.0 L220.9,307.7 L221.4,309.8 L221.9,308.1 L222.5,306.4 L223.0,305.4 L223.5,303.4 L224.0,305.6 L224.5,302.4 L224.9,303.4 L225.4,299.1 L225.8,300.8 L226.3,300.9 L226.8,297.7 L227.3,301.2 L227.8,301.6 L228.4,298.8 L228.9,299.7 L229.4,302.2 L229.9,303.4 L230.4,305.4 L230.9,307.3 L231.4,308.7 L232.0,309.3 L232.5,311.8 L233.0,312.5 L233.5,311.6 L234.0,308.6 L234.5,311.3 L235.0,313.2 L235.6,311.6 L236.1,310.6 L236.6,313.9 L237.1,310.6 L237.6,310.0 L238.1,312.9 L238.6,308.4 L239.2,308.2 L239.7,309.5 L240.2,306.5 L240.7,304.3 L241.2,305.9 L241.7,303.0 L242.1,302.8 L242.6,303.2 L243.1,304.1 L243.6,303.0 L244.1,302.2 L244.5,300.3 L245.0,300.3 L245.5,301.6 L246.0,301.6 L246.5,299.6 L246.9,298.4 L247.4,303.3 L247.9,303.1 L248.4,302.0 L248.9,296.1 L249.3,298.1 L249.8,298.7 L250.3,298.7 L250.8,298.8 L251.3,296.4 L251.8,295.6 L252.4,290.6 L252.9,292.3 L253.4,291.4 L253.9,289.3 L254.4,290.9 L254.9,292.6 L255.4,288.1 L256.0,286.9 L256.5,287.6 L257.0,287.7 L257.5,286.9 L258.0,285.8 L258.5,290.5 L258.9,291.4 L259.4,288.6 L259.9,287.1 L260.4,291.5 L260.9,292.8 L261.3,295.0 L261.8,294.8 L262.3,292.0 L262.8,288.9 L263.2,281.5 L263.7,278.3 L264.2,276.0 L264.6,274.0 L265.1,270.0 L265.6,268.9 L266.1,269.3 L266.6,269.1 L267.1,269.0 L267.5,268.0 L268.0,266.3 L268.5,266.9 L269.0,265.7 L269.5,264.0 L270.0,264.4 L270.5,266.6 L271.0,268.4 L271.5,270.4 L272.0,272.0 L272.5,273.8 L273.0,275.1 L273.5,270.6 L274.0,269.9 L274.5,269.4 L275.1,267.0 L275.6,263.5 L276.1,261.6 L276.6,258.0 L277.1,252.3 L277.6,251.8 L278.0,248.8 L278.5,248.7 L279.0,245.8 L279.5,241.2 L280.0,242.1 L280.5,246.7 L281.1,245.9 L281.6,243.9 L282.1,243.9 L282.6,246.2 L283.1,249.5 L283.6,252.2 L284.0,256.9 L284.5,259.3 L285.0,259.9 L285.5,260.1 L286.0,261.0 L286.4,259.9 L286.9,259.0 L287.4,254.7 L287.9,253.5 L288.4,253.9 L288.8,251.9 L289.3,252.7 L289.8,250.5 L290.3,253.2 L290.8,252.5 L291.3,257.0 L291.9,257.6 L292.4,256.0 L292.9,256.1 L293.4,257.3 L293.9,257.3 L294.4,257.5 L294.9,257.6 L295.5,255.9 L296.0,253.0 L296.5,253.6 L297.0,253.6 L297.5,255.8 L298.0,256.2 L298.4,255.4 L298.9,256.4 L299.4,256.5 L299.9,256.2 L300.4,255.9 L300.8,255.4 L301.3,256.7 L301.8,255.6 L302.3,255.7 L302.8,257.9 L303.3,257.3 L303.9,259.3 L304.4,258.5 L304.9,260.9 L305.4,265.3 L305.9,265.9 L306.4,265.3 L306.9,264.7 L307.5,262.4 L308.0,266.4 L308.5,266.2 L309.0,265.1 L309.5,263.8 L310.0,263.3 L310.5,260.2 L311.1,262.6 L311.6,263.9 L312.1,259.9 L312.6,261.5 L313.1,262.1 L313.6,258.9 L314.1,257.1 L314.7,257.4 L315.2,258.1 L315.7,257.2 L316.2,260.2 L316.7,260.7 L317.2,262.5 L317.7,263.7 L318.1,265.9 L318.6,266.7 L319.1,263.4 L319.6,264.0 L320.1,263.8 L320.6,264.8 L321.0,267.7 L321.5,270.2 L322.0,272.7 L322.5,270.4 L323.0,269.7 L323.4,271.3 L323.9,272.0 L324.4,272.1 L324.9,272.7 L325.4,271.9 L325.8,273.9 L326.3,274.4 L326.8,273.9 L327.3,272.5 L327.8,272.4 L328.3,268.0 L328.9,268.5 L329.4,270.2 L329.9,268.4 L330.4,271.0 L330.9,270.3 L331.4,267.6 L331.9,267.7 L332.5,267.3 L333.0,268.1 L333.5,268.3 L334.0,266.7 L334.5,264.9 L335.0,264.6 L335.4,264.3 L335.9,265.2 L336.4,264.6 L336.9,262.4 L337.4,260.0 L337.8,260.0 L338.3,259.2 L338.8,259.8 L339.3,258.4 L339.8,257.8 L340.4,258.1 L340.9,258.6 L341.4,257.0 L341.9,260.2 L342.5,257.3 L343.0,257.8 L343.5,255.1 L344.0,257.9 L344.5,253.5 L345.0,254.3 L345.6,256.6 L346.1,258.7 L346.6,262.8 L347.1,260.3 L347.6,264.2 L348.1,265.1 L348.6,266.5 L349.2,267.2 L349.7,267.2 L350.2,268.9 L350.7,268.7 L351.2,273.7 L351.7,274.8 L352.1,279.0 L352.6,285.8 L353.1,286.2 L353.6,287.5 L354.1,289.9 L354.5,289.8 L355.0,288.9 L355.5,290.6 L356.0,289.2 L356.5,287.4 L357.1,283.0 L357.6,283.6 L358.1,282.6 L358.6,276.8 L359.1,277.0 L359.6,275.0 L360.1,276.7 L360.6,273.8 L361.2,274.3 L361.7,272.4 L362.2,270.8 L362.7,271.6 L363.2,272.8 L363.7,270.6 L364.2,267.9 L364.8,268.4 L365.3,266.8 L365.8,266.0 L366.3,265.1 L366.8,266.7 L367.3,263.4 L367.8,265.8 L368.4,262.9 L368.9,262.3 L369.4,259.3 L369.9,258.3 L370.4,255.6 L370.9,260.0 L371.3,261.6 L371.8,258.3 L372.3,256.2 L372.8,255.1 L373.3,259.1 L373.7,258.5 L374.2,258.9 L374.7,259.3 L375.2,259.1 L375.7,257.7 L376.1,258.9 L376.6,257.2 L377.1,258.6 L377.6,260.0 L378.1,261.0 L378.5,260.4 L379.0,259.1 L379.5,260.6 L380.0,259.8 L380.5,262.9 L380.9,263.3 L381.4,262.1 L381.9,261.0 L382.4,260.2 L382.9,259.4 L383.3,260.0 L383.8,261.4 L384.3,262.1 L384.8,262.4 L385.3,264.4 L385.7,260.6 L386.2,259.5 L386.7,263.0 L387.2,256.9 L387.7,255.7 L388.1,255.8 L388.6,255.5 L389.1,254.9 L389.6,253.6 L390.1,253.2 L390.6,252.0 L391.1,252.0 L391.6,247.2 L392.1,246.0 L392.6,247.1 L393.1,245.3 L393.6,244.9 L394.1,247.4 L394.6,246.7 L395.1,248.4 L395.6,249.5 L396.1,249.4 L396.6,249.7 L397.1,248.9 L397.6,246.5 L398.1,247.6 L398.6,248.8 L399.1,248.4 L399.6,249.1 L400.0,251.1 L400.5,249.7 L401.0,251.7 L401.5,254.8 L402.0,252.8 L402.4,253.1 L402.9,253.1 L403.4,254.2 L403.9,255.1 L404.4,255.4 L404.9,253.0 L405.4,252.7 L405.9,252.5 L406.4,249.5 L406.9,253.0 L407.4,253.8 L407.9,249.8 L408.4,251.8 L408.9,251.2 L409.4,251.3 L409.9,251.7 L410.4,248.4 L410.8,248.7 L411.3,251.4 L411.8,249.2 L412.3,247.3 L412.8,245.6 L413.2,244.8 L413.7,246.7 L414.2,248.1 L414.7,247.3 L415.2,244.9 L415.6,245.9 L416.1,241.1 L416.6,237.8 L417.1,237.7 L417.6,237.4 L418.0,234.4 L418.5,232.2 L419.0,233.0 L419.5,232.9 L420.0,229.9 L420.4,229.8 L420.9,228.8 L421.4,229.5 L421.9,228.3 L422.4,227.2 L422.9,225.7 L423.5,226.7 L424.0,227.3 L424.5,224.2 L425.0,222.8 L425.5,222.1 L426.0,222.5 L426.4,223.8 L426.9,225.8 L427.4,223.8 L427.9,223.3 L428.4,223.6 L428.8,221.1 L429.3,222.3 L429.8,223.0 L430.3,220.7 L430.8,216.4 L431.2,211.6 L431.7,211.1 L432.2,209.9 L432.7,206.7 L433.1,206.1 L433.6,202.7 L434.1,199.3 L434.6,198.2 L435.1,193.1 L435.7,190.8 L436.2,189.5 L436.7,189.1 L437.2,185.9 L437.7,188.4 L438.2,189.0 L438.6,191.8 L439.1,196.3 L439.6,195.6 L440.1,200.4 L440.6,198.3 L441.0,198.9 L441.5,199.9 L442.0,200.9 L442.5,197.8 L443.0,193.5 L443.4,195.0 L443.9,195.3 L444.4,193.5 L444.9,195.6 L445.4,191.1 L445.9,187.7 L446.5,185.9 L447.0,182.9 L447.5,182.3 L448.0,176.2 L448.5,174.7 L449.0,168.6 L449.4,171.8 L449.9,171.1 L450.4,171.8 L450.9,176.4 L451.4,175.4 L451.8,175.0 L452.3,174.8 L452.8,175.8 L453.3,173.5 L453.8,174.4 L454.3,173.4 L454.8,172.4 L455.3,171.0 L455.8,171.6 L456.3,169.6 L456.8,169.8 L457.3,170.8 L457.7,170.0 L458.2,168.0 L458.7,171.3 L459.2,171.4 L459.7,169.3 L460.1,171.5 L460.6,171.5 L461.1,169.8 L461.6,171.2 L462.1,170.0 L462.6,169.9 L463.2,168.3 L463.7,166.6 L464.2,163.0 L464.7,164.5 L465.2,166.0 L465.7,166.8 L466.2,168.9 L466.8,170.2 L467.3,172.5 L467.8,172.7 L468.3,174.0 L468.8,169.6 L469.3,169.6 L469.8,170.9 L470.2,172.1 L470.7,169.5 L471.2,168.0 L471.7,173.1 L472.2,173.9 L472.8,177.3 L473.3,181.8 L473.8,182.7 L474.3,184.4 L474.8,185.5 L475.3,187.3 L475.7,188.7 L476.2,190.5 L476.7,192.5 L477.2,196.2 L477.7,192.2 L478.2,190.1 L478.8,190.5 L479.3,188.0 L479.8,188.9 L480.3,188.6 L480.8,189.4 L481.3,191.2 L481.8,189.3 L482.4,192.6 L482.9,191.1 L483.4,192.2 L483.9,194.9 L484.4,193.7 L484.9,195.7 L485.4,195.4 L486.0,194.4 L486.5,195.3 L487.0,197.3 L487.5,194.7 L488.0,196.2 L488.5,198.1 L488.9,197.8 L489.4,195.5 L489.9,200.7 L490.4,203.1 L490.9,197.9 L491.3,198.8 L491.8,200.2 L492.3,200.8 L492.8,200.6 L493.3,197.4 L493.8,193.7 L494.4,192.9 L494.9,193.1 L495.4,189.0 L495.9,187.6 L496.4,186.1 L496.9,182.6 L497.4,183.0 L498.0,182.4 L498.5,183.0 L499.0,180.9 L499.5,180.5 L500.0,179.2 L500.5,179.7 L500.9,178.9 L501.4,179.4 L501.9,180.7 L502.4,182.0 L502.9,183.3 L503.3,179.9 L503.8,178.6 L504.3,177.5 L504.8,180.2 L505.3,179.1 L505.8,179.9 L506.3,181.4 L506.8,179.4 L507.3,181.6 L507.8,182.3 L508.3,180.5 L508.8,183.7 L509.2,187.3 L509.7,184.8 L510.2,188.3 L510.7,186.3 L511.2,184.5 L511.7,182.3 L512.3,181.4 L512.8,177.4 L513.3,175.9 L513.8,171.7 L514.3,171.7 L514.8,168.6 L515.3,167.5 L515.9,169.3 L516.4,167.6 L516.9,165.1 L517.4,162.8 L517.9,161.7 L518.4,163.5 L518.9,165.9 L519.5,166.5 L520.0,167.2 L520.5,167.0 L521.0,167.5 L521.5,167.1 L522.0,165.5 L522.5,166.9 L523.1,166.1 L523.6,165.0 L524.1,163.8 L524.6,164.1 L525.1,165.9 L525.6,167.2 L526.0,165.8 L526.5,168.2 L527.0,169.4 L527.5,168.7 L528.0,171.6 L528.4,171.9 L528.9,172.4 L529.4,174.3 L529.9,177.1 L530.4,175.2 L530.9,176.3 L531.5,175.0 L532.0,179.7 L532.5,177.8 L533.0,178.2 L533.5,177.9 L534.0,179.3 L534.4,182.4 L534.9,176.5 L535.4,177.0 L535.9,178.9 L536.4,179.0 L536.8,178.3 L537.3,182.5 L537.8,180.4 L538.3,178.7 L538.8,181.7 L539.3,179.4 L539.9,183.2 L540.4,182.7 L540.9,183.9 L541.4,185.3 L541.9,187.2 L542.4,185.8 L542.9,185.3 L543.5,190.3 L544.0,192.8 L544.5,192.2 L545.0,194.6 L545.5,194.1 L546.0,193.0 L546.5,187.1 L547.1,186.5 L547.6,187.4 L548.1,186.9 L548.6,184.6 L549.1,181.5 L549.6,183.5 L550.1,185.2 L550.7,189.5 L551.2,186.2 L551.7,185.7 L552.2,186.3 L552.7,187.2 L553.2,185.3 L553.7,186.6 L554.3,184.0 L554.8,184.1 L555.3,182.6 L555.8,182.8 L556.3,183.1 L556.8,182.5 L557.2,187.2 L557.7,189.1 L558.2,189.7 L558.7,189.1 L559.2,189.8 L559.6,186.6 L560.1,186.0 L560.6,186.3 L561.1,186.1 L561.6,184.1 L562.0,179.9 L562.5,182.7 L563.0,181.8 L563.5,182.3 L564.0,182.0 L564.5,182.9 L565.1,182.4 L565.6,181.4 L566.1,181.5 L566.6,183.4 L567.1,182.7 L567.6,182.5 L568.1,185.6 L568.6,184.4 L569.1,187.3 L569.6,186.4 L570.1,188.6 L570.6,191.1 L571.1,190.7 L571.6,189.2 L572.2,189.9 L572.7,190.6 L573.2,188.1 L573.7,190.4 L574.2,192.6 L574.7,194.7 L575.1,197.8 L575.6,201.6 L576.1,203.6 L576.6,205.2 L577.1,204.8 L577.6,203.2 L578.2,202.7 L578.7,201.9 L579.2,201.4 L579.7,201.7 L580.2,199.2 L580.7,200.5 L581.2,201.9 L581.8,201.2 L582.3,202.5 L582.8,204.2 L583.3,204.3 L583.8,209.7 L584.3,206.1 L584.7,209.2 L585.2,209.2 L585.7,215.0 L586.2,219.9 L586.7,214.5 L587.2,216.4 L587.8,218.3 L588.3,218.3 L588.8,220.0 L589.3,218.9 L589.8,219.3 L590.3,219.7 L590.8,219.1 L591.4,217.7 L591.9,218.8 L592.4,217.4 L592.9,217.5 L593.4,216.6 L593.9,213.2 L594.4,214.9 L595.0,216.1 L595.5,217.5 L596.0,215.5 L596.5,216.1 L597.0,217.5 L597.5,217.9 L598.0,220.1 L598.6,222.7 L599.1,219.6 L599.6,216.7 L600.1,219.9 L600.6,221.2 L601.1,220.2 L601.6,219.0 L602.2,215.4 L602.7,212.9 L603.2,213.6 L603.7,211.2 L604.2,209.0 L604.7,209.9 L605.2,216.4 L605.8,219.2 L606.3,216.8 L606.8,216.0 L607.3,217.5 L607.8,217.0 L608.3,220.4 L608.8,220.2 L609.4,218.8 L609.9,222.3 L610.4,221.4 L610.9,222.4 L611.4,222.6 L611.9,222.3 L612.3,223.3 L612.8,222.3 L613.3,220.1 L613.8,218.5 L614.3,219.3 L614.7,220.7 L615.2,222.7 L615.7,224.5 L616.2,225.2 L616.7,225.1 L617.3,223.6 L617.8,223.0 L618.3,220.5 L618.8,222.3 L619.4,224.3 L619.9,225.3 L620.4,224.7 L620.9,224.7 L621.4,226.4 L621.9,225.9 L622.5,226.9 L623.0,227.3 L623.5,226.9 L624.0,226.7 L624.5,227.0 L625.0,227.0 L625.4,226.6 L625.9,226.8 L626.4,229.9 L626.9,233.6 L627.4,232.3 L627.9,232.9 L628.5,234.3 L629.0,234.8 L629.5,235.9 L630.0,233.0 L630.5,231.6 L631.0,232.7 L631.4,234.7 L631.9,233.5 L632.4,231.2 L632.9,230.7 L633.4,229.9 L633.8,229.0 L634.3,232.3 L634.8,230.6 L635.3,230.7 L635.8,234.4 L636.3,234.8 L636.9,233.7 L637.4,231.7 L637.9,232.5 L638.4,232.8 L638.9,234.1 L639.4,234.7 L639.8,233.0 L640.3,232.7 L640.8,231.2 L641.3,231.4 L641.8,232.8 L642.2,229.0 L642.7,229.1 L643.2,229.5 L643.7,226.7 L644.2,224.7 L644.6,224.5 L645.1,225.4 L645.6,220.7 L646.1,221.3 L646.6,217.4 L647.1,220.7 L647.7,219.1 L648.2,217.9 L648.7,215.3 L649.2,216.0 L649.7,214.3 L650.2,215.7 L650.7,217.1 L651.3,217.2 L651.8,217.7 L652.3,216.2 L652.8,218.0 L653.3,217.0 L653.8,213.8 L654.3,214.7 L654.9,214.0 L655.4,213.1 L655.9,213.5 L656.4,215.0 L656.9,214.7 L657.5,217.3 L658.0,221.9 L658.5,222.6 L659.0,218.8 L659.5,214.8 L660.0,210.3 L660.5,209.9 L661.0,210.7 L661.4,209.5 L661.9,205.1 L662.4,207.7 L662.9,205.6 L663.4,207.5 L663.9,206.2 L664.5,206.6 L665.0,209.9 L665.5,206.2 L666.0,205.4 L666.5,202.4 L667.0,199.8 L667.5,199.2 L668.1,202.3 L668.6,202.0 L669.1,199.8 L669.6,202.2 L670.1,202.5 L670.6,202.0 L671.1,202.5 L671.7,204.0 L672.2,206.4 L672.7,208.7 L673.2,205.8 L673.7,207.0 L674.2,206.4 L674.7,208.8 L675.3,209.4 L675.8,207.1 L676.3,207.2 L676.8,206.3 L677.3,206.8 L677.8,205.9 L678.2,204.3 L678.7,204.8 L679.2,203.6 L679.7,207.6 L680.2,208.5 L680.6,206.4 L681.1,209.6 L681.6,209.0 L682.1,206.5 L682.6,210.5 L683.2,211.0 L683.7,213.3 L684.2,209.2 L684.7,210.1 L685.3,210.4 L685.8,210.3 L686.3,209.7 L686.8,210.7 L687.3,206.4 L687.8,204.3 L688.4,202.5 L688.9,202.5 L689.4,202.1 L689.9,203.3 L690.4,203.1 L690.9,202.6 L691.4,200.9 L692.0,200.2 L692.5,201.8 L693.0,202.1 L693.5,200.2 L694.0,200.0 L694.5,202.6 L694.9,200.5 L695.4,201.6 L695.9,202.9 L696.4,201.4 L696.9,202.5 L697.3,199.9 L697.8,202.1 L698.3,201.4 L698.8,199.1 L699.3,201.4 L699.7,200.0 L700.2,202.9 L700.7,201.3 L701.2,201.3 L701.7,202.2 L702.1,201.6 L702.6,202.4 L703.1,202.1 L703.6,203.8 L704.1,204.4 L704.6,205.4 L705.2,201.6 L705.7,206.4 L706.2,207.4 L706.7,207.4 L707.2,207.3 L707.7,208.9 L708.1,210.8 L708.6,208.4 L709.1,211.6 L709.6,210.5 L710.1,214.2 L710.5,212.1 L711.0,212.5 L711.5,210.8 L712.0,209.0 L712.5,211.4 L712.9,212.3 L713.4,213.6 L713.9,213.2 L714.4,210.6 L714.9,207.5 L715.3,207.5 L715.8,207.4 L716.3,208.8 L716.8,209.0 L717.3,209.4 L717.7,208.5 L718.2,208.7 L718.7,208.1 L719.2,208.3 L719.7,209.2 L720.1,209.8 L720.6,207.3 L721.1,206.4 L721.6,207.5 L722.1,206.5 L722.6,207.2 L723.2,202.8 L723.7,202.4 L724.2,202.4 L724.7,201.5 L725.2,199.3 L725.7,200.7 L726.1,201.6 L726.6,202.4 L727.1,198.4 L727.6,195.2 L728.1,196.2 L728.5,197.0 L729.0,195.8 L729.5,193.4 L730.0,194.1 L730.5,194.9 L730.9,194.8 L731.4,193.0 L731.9,193.2 L732.4,194.0 L732.9,192.1 L733.3,189.0 L733.8,190.8 L734.3,191.6 L734.8,191.5 L735.3,192.7 L735.8,190.8 L736.3,190.6 L736.8,190.0 L737.3,191.1 L737.8,191.2 L738.3,190.5 L738.8,192.4 L739.3,192.1 L739.9,190.3 L740.4,188.7 L740.9,189.3 L741.4,184.8 L741.9,184.8 L742.4,182.5 L742.8,183.7 L743.3,185.5 L743.8,185.0 L744.3,184.5 L744.8,183.1 L745.2,182.9 L745.7,180.1 L746.2,182.1 L746.7,182.1 L747.2,180.9 L747.6,181.2 L748.1,181.4 L748.6,184.5 L749.1,186.6 L749.6,184.0 L750.0,186.6 L750.5,188.1 L751.0,186.7 L751.5,183.8 L752.0,183.3 L752.5,183.0 L753.1,184.1 L753.6,183.3 L754.1,179.9 L754.6,182.7 L755.1,178.9 L755.6,180.9 L756.1,178.0 L756.7,176.9 L757.2,175.5 L757.7,174.8 L758.2,176.2 L758.7,176.8 L759.2,175.7 L759.7,174.3 L760.3,170.0 L760.8,169.1 L761.3,168.0 L761.8,168.0 L762.3,166.9 L762.8,164.6 L763.3,162.8 L763.9,160.7 L764.4,157.3 L764.9,159.2 L765.4,159.6 L765.9,160.7 L766.4,159.2 L766.9,155.9 L767.5,159.1 L768.0,162.6 L768.5,163.2 L769.0,163.4 L769.5,166.0 L770.0,165.9 L770.5,163.3 L771.1,164.3 L771.6,164.3 L772.1,160.5 L772.6,161.2 L773.1,158.9 L773.6,160.4 L774.0,162.4 L774.5,160.8 L775.0,161.5 L775.5,163.4 L776.0,164.7 L776.5,167.4 L777.1,164.7 L777.6,167.4 L778.1,170.8 L778.6,169.1 L779.1,169.2 L779.6,168.0 L780.1,166.5 L780.7,167.3 L781.2,167.5 L781.7,165.8 L782.2,163.5 L782.7,164.0 L783.2,162.7 L783.7,163.6 L784.3,163.3 L784.8,165.2 L785.3,165.2 L785.8,161.8 L786.3,162.2 L786.8,164.2 L787.3,161.3 L787.9,161.2 L788.4,162.2 L788.9,162.7 L789.4,159.8 L789.9,158.7 L790.4,157.7 L790.9,159.8 L791.5,161.4 L792.0,165.8 L792.5,162.9 L793.0,163.4 L793.5,165.5 L794.0,162.2 L794.5,162.2 L795.1,164.0 L795.6,164.1 L796.1,165.0 L796.6,166.4 L797.1,166.4 L797.6,168.9 L798.0,169.0 L798.5,169.8 L799.0,172.4 L799.5,170.3 L799.9,169.9 L800.4,171.3 L800.8,168.8 L801.3,166.4 L801.8,167.0 L802.3,165.0 L802.8,166.0 L803.4,162.4 L803.9,163.3 L804.4,161.6 L804.9,161.0 L805.4,164.6 L805.9,163.2 L806.4,167.2 L807.0,168.0 L807.5,170.2 L808.0,167.9 L808.5,169.3 L809.0,171.7 L809.5,169.5 L810.0,168.2 L810.6,171.5 L811.1,169.4 L811.6,167.2 L812.1,166.1 L812.6,167.7 L813.1,169.1 L813.6,170.0 L814.2,173.5 L814.7,172.5 L815.2,173.7 L815.7,174.4 L816.2,172.5 L816.7,173.4 L817.2,174.7 L817.8,169.8 L818.3,167.3 L818.8,165.7 L819.3,166.2 L819.8,165.8 L820.3,163.1 L820.8,165.4 L821.4,167.9 L821.9,164.1 L822.4,164.1 L822.9,164.0 L823.4,164.3 L823.9,163.3 L824.4,163.4 L825.0,163.9 L825.5,164.9 L826.0,163.8 L826.5,163.9 L827.0,162.6 L827.5,162.9 L828.0,160.9 L828.6,161.6 L829.1,158.6 L829.6,159.3 L830.1,162.0 L830.6,161.8 L831.1,158.6 L831.6,159.1 L832.2,157.0 L832.7,154.6 L833.2,154.5 L833.7,156.6 L834.2,155.5 L834.7,153.4 L835.1,150.2 L835.6,147.5 L836.1,148.6 L836.6,148.6 L837.1,146.2 L837.6,142.8 L838.2,142.1 L838.7,147.6 L839.2,144.3 L839.7,144.5 L840.2,144.4 L840.7,143.8 L841.1,143.1 L841.6,140.8 L842.1,140.0 L842.6,143.8 L843.1,141.6 L843.5,142.9 L844.0,139.3 L844.5,140.6 L845.0,141.1 L845.5,143.3 L845.9,141.1 L846.4,143.0 L846.9,143.7 L847.4,142.5 L847.9,144.0 L848.3,142.7 L848.8,142.4 L849.3,144.4 L849.8,139.4 L850.3,141.1 L850.8,140.3 L851.3,138.9 L851.8,139.6 L852.3,141.5 L852.8,140.9 L853.3,143.1 L853.8,140.8 L854.3,139.5 L854.9,143.7 L855.4,144.0 L855.9,145.3 L856.4,143.4 L856.9,144.6 L857.4,144.4 L857.9,144.9 L858.5,144.1 L859.0,145.6 L859.5,143.4 L860.0,142.8 L860.5,140.2 L861.0,143.8 L861.5,142.6 L862.1,141.5 L862.6,141.2 L863.1,142.0 L863.6,143.2 L864.1,142.5 L864.7,142.8 L865.2,143.3 L865.8,143.1 L866.3,145.5 L866.8,146.0 L867.4,148.3 L867.9,150.4 L868.5,152.3 L869.0,152.1 L869.5,149.7 L870.1,148.8 L870.6,150.4 L871.2,147.0 L871.7,147.9 L872.2,147.6 L872.8,148.7 L873.3,151.7 L873.9,151.2 L874.4,152.6 L874.9,151.1 L875.5,149.6 L876.0,153.9 L876.6,155.1 L877.1,155.2 L877.6,154.4 L878.2,153.5 L878.7,149.8 L879.3,150.7 L879.8,148.5 L880.3,149.4 L880.8,148.4 L881.3,144.3 L881.9,143.1 L882.4,146.1 L882.9,145.3 L883.4,144.8 L883.9,144.5 L884.4,143.3 L884.9,142.3 L885.4,142.5 L885.9,142.4 L886.4,144.3 L886.9,141.8 L887.4,144.7 L887.9,145.3 L888.4,145.3 L889.0,144.1 L889.5,141.8 L890.0,140.5 L890.5,138.8 L891.0,138.1 L891.5,138.9 L892.0,138.5 L892.6,142.2 L893.1,142.5 L893.6,141.2 L894.1,140.5 L894.6,139.7 L895.1,139.7 L895.6,138.6 L896.2,137.8 L896.7,135.6 L897.2,139.0 L897.7,140.2 L898.2,143.8 L898.7,141.5 L899.2,140.0 L899.8,141.6 L900.3,140.1 L900.8,139.2 L901.3,137.8 L901.8,136.3 L902.3,138.7 L902.8,138.8 L903.4,139.8 L903.9,136.7 L904.4,135.5 L904.9,133.9 L905.4,135.4 L905.9,132.7 L906.4,134.6 L907.0,136.5 L907.5,138.0 L908.0,135.0 L908.5,135.6 L909.0,134.6 L909.5,133.3 L910.0,131.6 L910.6,134.6 L911.1,136.8 L911.6,134.1 L912.1,133.1 L912.6,133.3 L913.2,138.7 L913.7,139.4 L914.3,137.7 L914.8,137.1 L915.3,135.4 L915.8,138.3 L916.3,140.8 L916.9,138.5 L917.4,136.7 L917.9,136.0 L918.4,135.8 L918.9,136.5 L919.4,134.7 L919.9,137.3 L920.5,134.0 L921.0,133.0 L921.5,135.0 L922.0,135.5 L922.5,136.5 L923.1,136.5 L923.6,134.8 L924.2,136.8 L924.7,137.3 L925.2,133.9 L925.7,137.4 L926.2,136.7 L926.8,136.4 L927.3,131.8 L927.8,131.0 L928.3,132.0 L928.8,134.5 L929.4,132.7 L929.9,133.3 L930.5,132.3 L931.0,137.0 L931.5,136.9 L932.0,134.4 L932.6,134.8 L933.1,136.7 L933.6,137.6 L934.1,139.5 L934.7,138.2 L935.2,136.4 L935.8,136.1 L936.3,138.0 L936.8,138.9 L937.4,140.3 L937.9,144.4 L938.5,144.7 L939.0,143.8 L939.5,146.5 L940.1,147.4 L940.6,146.6 L941.2,145.1 L941.7,144.9 L942.2,145.8 L942.6,152.2" stroke="#4dc39b"/>
</g>
<rect x="392" y="422.5" width="13.2" height="2.2" fill="#5a6aa6"/>
<text transform="translate(409.50,427.50) scale(0.9089,1)" font-size="13" font-weight="bold" fill="#3f3f3f" >MET Value</text>
<rect x="479.5" y="422.5" width="13.2" height="2.2" fill="#4dc39b"/>
<text transform="translate(497.00,427.50) scale(0.9224,1)" font-size="13" font-weight="bold" fill="#3f3f3f" >Bitcoin Price</text>
<g clip-path="url(#cv)">
<text transform="translate(12.00,430.60) scale(0.7914,1)" font-size="9" font-weight="normal" fill="#777777" >CanvasJS Trial</text>
<rect x="176.9" y="433" width="1" height="45" fill="#cccccc"/>
<rect x="288.0" y="433" width="1" height="45" fill="#cccccc"/>
<rect x="398.0" y="433" width="1" height="45" fill="#cccccc"/>
<rect x="507.8" y="433" width="1" height="45" fill="#cccccc"/>
<rect x="617.8" y="433" width="1" height="45" fill="#cccccc"/>
<rect x="727.8" y="433" width="1" height="45" fill="#cccccc"/>
<rect x="838.0" y="433" width="1" height="45" fill="#cccccc"/>
<path d="M96.5,466.7 L486.6,466.7 L486.6,466.0 L487.0,466.1 L487.3,466.1 L487.8,466.2 L488.2,466.2 L488.6,466.3 L489.0,466.2 L489.3,466.1 L489.7,466.0 L490.1,466.0 L490.5,466.0 L490.8,466.0 L491.2,466.0 L491.6,466.0 L491.9,466.1 L492.3,466.1 L492.7,466.1 L493.1,466.1 L493.4,466.1 L493.8,466.0 L494.2,465.9 L494.5,465.9 L494.9,465.8 L495.2,465.8 L495.6,465.7 L496.0,465.6 L496.3,465.5 L496.7,465.3 L497.0,465.2 L497.4,464.9 L497.8,465.0 L498.1,465.1 L498.5,465.1 L498.8,465.2 L499.2,465.3 L499.5,465.3 L499.9,465.4 L500.3,465.4 L500.6,465.2 L500.9,465.1 L501.2,465.0 L501.6,464.9 L502.0,464.7 L502.4,464.6 L502.8,464.4 L503.2,464.2 L503.5,464.0 L503.9,463.8 L504.2,463.5 L504.6,463.3 L504.9,463.0 L505.3,462.7 L505.7,463.2 L506.1,463.5 L506.5,463.9 L506.9,464.2 L507.3,464.0 L507.6,463.8 L508.0,463.5 L508.4,463.2 L508.7,463.0 L509.1,462.7 L509.4,463.0 L509.8,463.3 L510.1,463.4 L510.5,463.7 L510.8,463.9 L511.2,464.2 L511.6,464.4 L512.0,464.7 L512.4,464.9 L512.8,465.1 L513.2,465.1 L513.5,465.0 L513.9,465.0 L514.2,465.0 L514.5,465.1 L514.9,465.3 L515.2,465.4 L515.6,465.5 L515.9,465.6 L516.3,465.7 L516.6,465.6 L516.9,465.4 L517.3,465.3 L517.6,465.1 L518.0,464.9 L518.3,465.2 L518.7,465.5 L519.0,465.7 L519.4,465.9 L519.7,466.1 L520.1,466.1 L520.4,466.1 L520.8,466.1 L521.1,466.1 L521.5,466.2 L521.8,466.2 L522.1,466.2 L522.5,466.1 L522.8,466.0 L523.2,466.0 L523.5,465.9 L523.9,465.9 L524.3,465.9 L524.6,465.9 L525.0,465.9 L525.4,465.9 L525.8,465.9 L526.2,465.9 L526.6,465.9 L526.9,465.9 L527.3,465.9 L527.7,465.9 L528.0,465.9 L528.4,466.0 L528.7,466.0 L529.1,466.0 L529.4,466.0 L529.7,466.0 L530.1,466.0 L530.4,466.0 L530.8,466.0 L531.1,466.0 L531.5,465.9 L531.8,466.0 L532.2,466.0 L532.5,466.0 L532.9,466.1 L533.2,466.1 L533.5,466.1 L533.9,466.1 L534.2,466.1 L534.6,466.1 L534.9,466.0 L535.3,466.0 L535.6,466.0 L536.0,465.9 L536.4,465.8 L536.9,465.7 L537.3,465.6 L537.6,465.7 L538.0,465.7 L538.4,465.8 L538.7,465.8 L539.1,465.9 L539.5,465.9 L539.9,465.9 L540.3,465.9 L540.7,465.9 L541.1,466.0 L541.4,466.0 L541.8,466.0 L542.2,466.0 L542.5,466.0 L542.9,466.0 L543.2,465.9 L543.6,466.0 L543.9,465.9 L544.3,466.0 L544.7,466.0 L545.1,466.0 L545.5,466.0 L545.9,466.0 L546.3,466.0 L546.7,466.0 L547.0,466.0 L547.4,466.0 L547.7,465.9 L548.1,465.9 L548.4,465.9 L548.8,465.9 L549.1,465.8 L549.5,465.8 L549.9,465.8 L550.3,465.8 L550.6,465.8 L551.0,465.9 L551.4,465.8 L551.8,465.8 L552.2,465.8 L552.6,465.8 L552.9,465.8 L553.3,465.8 L553.8,465.7 L554.2,465.7 L554.6,465.7 L555.0,465.7 L555.4,465.8 L555.8,465.8 L556.1,465.8 L556.5,465.8 L556.9,465.9 L557.2,465.9 L557.6,465.9 L558.0,465.9 L558.3,465.9 L558.7,466.0 L559.1,466.0 L559.4,466.0 L559.8,466.0 L560.2,465.9 L560.6,466.0 L560.9,465.9 L561.4,466.0 L561.8,466.1 L562.2,466.1 L562.6,466.1 L563.1,466.1 L563.5,466.2 L563.9,466.1 L564.3,466.1 L564.8,466.0 L565.1,466.0 L565.5,466.0 L565.9,466.0 L566.3,466.0 L566.7,466.0 L567.1,466.0 L567.4,465.9 L567.8,465.9 L568.2,465.9 L568.6,465.9 L569.0,465.9 L569.4,465.9 L569.7,465.8 L570.1,465.8 L570.5,465.8 L570.9,465.8 L571.2,465.8 L571.6,465.8 L572.0,465.8 L572.3,465.8 L572.7,465.7 L573.1,465.7 L573.4,465.8 L573.8,465.7 L574.2,465.7 L574.6,465.7 L575.0,465.7 L575.4,465.6 L575.7,465.5 L576.1,465.4 L576.5,465.3 L576.9,465.2 L577.3,465.3 L577.7,465.4 L578.2,465.6 L578.5,465.6 L578.9,465.5 L579.3,465.5 L579.6,465.5 L580.0,465.5 L580.3,465.5 L580.7,465.5 L581.1,465.4 L581.4,465.4 L581.8,465.3 L582.2,465.3 L582.5,465.2 L582.9,465.1 L583.3,465.0 L583.6,465.0 L584.0,465.1 L584.4,465.1 L584.8,465.2 L585.2,465.2 L585.6,465.2 L585.9,465.3 L586.3,465.3 L586.7,465.4 L587.1,465.4 L587.4,465.3 L587.8,465.1 L588.1,464.9 L588.5,464.8 L588.8,464.7 L589.2,464.7 L589.6,464.6 L590.0,464.8 L590.4,464.9 L590.7,465.1 L591.1,465.2 L591.5,465.3 L591.9,465.4 L592.3,465.5 L592.7,465.5 L593.0,465.6 L593.4,465.6 L593.8,465.6 L594.1,465.6 L594.5,465.5 L594.9,465.5 L595.2,465.5 L595.6,465.5 L596.0,465.4 L596.4,465.5 L596.7,465.6 L597.1,465.6 L597.5,465.7 L597.9,465.8 L598.3,465.7 L598.6,465.7 L599.0,465.7 L599.3,465.6 L599.7,465.6 L600.1,465.6 L600.4,465.5 L600.8,465.5 L601.2,465.5 L601.5,465.5 L601.9,465.5 L602.3,465.5 L602.6,465.5 L603.0,465.5 L603.4,465.5 L603.8,465.6 L604.1,465.6 L604.5,465.7 L604.9,465.7 L605.3,465.6 L605.6,465.6 L606.0,465.6 L606.4,465.6 L606.7,465.6 L607.1,465.6 L607.5,465.5 L607.8,465.5 L608.2,465.5 L608.6,465.5 L608.9,465.5 L609.3,465.5 L609.6,465.5 L610.0,465.5 L610.4,465.5 L610.7,465.5 L611.1,465.4 L611.5,465.5 L611.8,465.5 L612.2,465.5 L612.5,465.5 L612.9,465.5 L613.2,465.5 L613.6,465.5 L613.9,465.5 L614.3,465.5 L614.7,465.5 L615.0,465.5 L615.4,465.6 L615.9,465.6 L616.3,465.7 L616.7,465.7 L617.2,465.8 L617.6,465.8 L618.0,465.8 L618.4,465.8 L618.8,465.6 L619.3,465.6 L619.7,465.5 L620.1,465.4 L620.5,465.5 L620.9,465.5 L621.2,465.5 L621.6,465.4 L622.0,465.4 L622.4,465.3 L622.8,465.3 L623.2,465.2 L623.6,465.2 L624.0,465.2 L624.4,465.2 L624.8,465.3 L625.2,465.3 L625.6,465.3 L626.0,465.4 L626.4,465.4 L626.9,465.4 L627.3,465.3 L627.7,465.2 L628.1,465.3 L628.5,465.4 L628.9,465.5 L629.2,465.5 L629.6,465.6 L630.0,465.6 L630.4,465.5 L630.8,465.4 L631.2,465.4 L631.5,465.3 L631.9,465.3 L632.3,465.3 L632.7,465.3 L633.1,465.3 L633.5,465.3 L633.8,465.2 L634.2,465.1 L634.6,464.9 L635.0,464.8 L635.4,464.7 L635.8,464.6 L636.2,464.3 L636.6,464.2 L637.0,464.4 L637.4,464.5 L637.8,464.4 L638.2,464.6 L638.6,464.7 L638.9,464.7 L639.3,464.6 L639.7,464.6 L640.0,464.6 L640.4,464.6 L640.8,464.6 L641.1,464.6 L641.5,464.6 L641.8,464.6 L642.2,464.6 L642.6,464.6 L642.9,464.6 L643.3,464.6 L643.7,464.7 L644.0,464.6 L644.4,464.5 L644.8,464.4 L645.1,464.4 L645.5,464.2 L645.9,464.1 L646.2,464.1 L646.6,464.2 L647.0,464.2 L647.4,464.2 L647.8,464.2 L648.1,464.3 L648.5,464.1 L648.9,463.9 L649.2,463.8 L649.6,463.6 L650.0,463.4 L650.3,463.4 L650.7,463.5 L651.1,463.5 L651.4,463.6 L651.8,463.6 L652.1,463.6 L652.5,463.8 L652.8,463.8 L653.2,463.8 L653.5,463.8 L653.9,463.7 L654.3,463.6 L654.6,463.5 L655.0,463.3 L655.4,463.3 L655.7,463.3 L656.1,463.5 L656.5,463.6 L656.8,463.6 L657.2,463.7 L657.6,463.8 L657.9,463.8 L658.3,464.0 L658.7,463.9 L659.0,463.9 L659.4,463.8 L659.7,463.8 L660.1,463.8 L660.5,463.8 L660.8,463.7 L661.2,463.8 L661.6,464.0 L661.9,464.0 L662.3,464.1 L662.7,464.2 L663.0,464.3 L663.4,464.4 L663.8,464.2 L664.2,464.0 L664.5,463.8 L664.9,463.5 L665.3,463.1 L665.7,463.1 L666.0,463.1 L666.4,463.1 L666.8,462.9 L667.1,462.8 L667.5,462.8 L667.9,462.8 L668.2,462.8 L668.6,462.9 L669.0,463.0 L669.4,463.1 L669.8,463.1 L670.2,463.0 L670.6,462.7 L671.0,462.5 L671.4,462.4 L671.8,462.1 L672.2,461.9 L672.6,461.5 L672.9,461.2 L673.3,461.2 L673.7,460.8 L674.1,461.1 L674.5,461.5 L674.9,461.7 L675.2,461.8 L675.6,462.1 L676.0,462.1 L676.4,462.0 L676.8,461.9 L677.2,461.7 L677.5,461.7 L678.0,461.4 L678.4,461.1 L678.8,460.9 L679.2,461.0 L679.6,461.3 L680.0,461.5 L680.3,461.6 L680.7,461.8 L681.1,461.8 L681.5,461.8 L681.9,461.8 L682.3,461.7 L682.6,461.7 L683.0,461.6 L683.4,461.7 L683.8,461.6 L684.1,461.5 L684.5,461.4 L684.9,461.3 L685.3,461.4 L685.7,461.4 L686.0,461.4 L686.4,461.3 L686.8,461.3 L687.2,461.2 L687.6,461.2 L687.9,461.0 L688.3,461.1 L688.8,461.7 L689.2,462.3 L689.6,462.7 L690.0,462.6 L690.5,462.2 L690.9,461.9 L691.3,461.3 L691.7,460.9 L692.2,460.0 L692.6,460.5 L693.0,461.2 L693.4,461.7 L693.8,462.4 L694.1,463.1 L694.5,463.1 L694.8,463.1 L695.2,463.0 L695.6,463.0 L696.0,463.0 L696.4,463.2 L696.8,463.2 L697.1,463.4 L697.5,463.5 L697.9,463.6 L698.3,463.7 L698.7,463.9 L699.0,464.1 L699.4,464.2 L699.8,464.4 L700.1,464.6 L700.5,464.8 L700.8,464.6 L701.2,464.4 L701.6,464.2 L702.0,464.1 L702.4,463.9 L702.8,464.1 L703.2,464.3 L703.6,464.4 L704.0,464.3 L704.4,464.2 L704.8,464.1 L705.2,464.2 L705.6,464.0 L705.9,464.0 L706.3,463.9 L706.7,463.8 L707.0,463.8 L707.4,463.7 L707.7,463.7 L708.1,463.6 L708.5,463.5 L708.8,463.6 L709.2,463.5 L709.5,463.5 L709.9,463.4 L710.3,463.4 L710.6,463.3 L711.0,463.2 L711.3,463.0 L711.7,463.2 L712.1,463.2 L712.4,463.1 L712.8,463.2 L713.2,463.1 L713.5,463.1 L713.9,462.8 L714.3,462.6 L714.7,462.4 L715.1,462.2 L715.4,462.1 L715.8,462.0 L716.2,462.1 L716.5,462.1 L716.9,461.9 L717.3,461.8 L717.6,461.9 L718.0,462.1 L718.4,462.0 L718.8,461.9 L719.2,462.1 L719.5,462.2 L719.9,462.3 L720.3,462.3 L720.7,462.4 L721.1,462.3 L721.5,462.4 L721.8,462.3 L722.2,462.0 L722.5,461.9 L722.9,461.9 L723.3,461.8 L723.6,461.6 L724.0,461.4 L724.4,461.8 L724.8,462.0 L725.2,462.2 L725.5,462.4 L725.9,462.5 L726.3,462.4 L726.7,462.3 L727.1,462.1 L727.5,461.9 L727.8,461.8 L728.2,462.0 L728.6,462.3 L729.0,462.3 L729.4,462.5 L729.8,462.7 L730.1,462.7 L730.5,462.7 L730.8,462.7 L731.2,462.8 L731.6,462.7 L731.9,462.6 L732.3,462.7 L732.7,462.6 L733.1,462.2 L733.5,462.1 L733.8,461.9 L734.2,461.7 L734.6,462.0 L735.0,462.1 L735.4,462.2 L735.7,462.4 L736.1,462.6 L736.5,462.5 L736.9,462.4 L737.3,462.2 L737.7,462.3 L738.0,462.0 L738.4,462.0 L738.8,462.2 L739.2,462.2 L739.6,462.3 L740.0,462.3 L740.3,462.3 L740.7,462.2 L741.1,462.0 L741.5,461.9 L741.9,461.7 L742.3,461.7 L742.6,462.0 L743.0,462.1 L743.4,462.1 L743.8,462.4 L744.2,462.2 L744.5,462.1 L744.9,461.9 L745.3,461.6 L745.6,461.4 L746.0,461.4 L746.4,461.2 L746.8,461.1 L747.2,461.0 L747.6,460.9 L748.0,460.9 L748.4,460.7 L748.8,460.5 L749.3,461.2 L749.7,461.7 L750.1,462.3 L750.5,462.3 L750.9,462.3 L751.3,462.3 L751.6,462.4 L752.0,462.4 L752.4,462.5 L752.8,462.6 L753.2,462.7 L753.6,462.9 L753.9,463.0 L754.3,462.8 L754.7,462.7 L755.1,462.4 L755.5,462.2 L755.9,462.1 L756.2,462.2 L756.6,462.1 L757.0,462.1 L757.4,461.9 L757.8,461.9 L758.2,461.8 L758.5,461.9 L758.9,461.7 L759.3,461.7 L759.7,461.7 L760.1,461.6 L760.5,461.4 L760.8,461.3 L761.2,461.1 L761.6,460.9 L762.0,461.1 L762.4,461.1 L762.7,461.2 L763.1,461.5 L763.5,461.5 L763.9,461.7 L764.3,461.7 L764.7,461.7 L765.0,461.8 L765.4,462.0 L765.8,462.0 L766.2,462.0 L766.5,462.2 L766.9,462.2 L767.3,462.3 L767.6,462.3 L768.0,462.2 L768.3,462.2 L768.7,462.3 L769.1,462.3 L769.4,462.4 L769.8,462.3 L770.2,462.4 L770.5,462.4 L770.9,462.4 L771.2,462.3 L771.6,462.2 L772.0,462.1 L772.3,462.3 L772.7,462.3 L773.0,462.3 L773.4,462.0 L773.8,461.9 L774.2,461.7 L774.6,461.4 L774.9,461.3 L775.3,461.3 L775.7,461.2 L776.1,461.1 L776.5,461.0 L776.9,461.0 L777.2,461.2 L777.6,461.2 L778.0,461.3 L778.4,461.6 L778.8,461.7 L779.2,461.6 L779.5,461.8 L779.9,461.5 L780.3,461.4 L780.7,461.5 L781.1,461.7 L781.5,461.7 L781.8,462.0 L782.2,462.3 L782.6,462.4 L783.0,462.2 L783.3,462.0 L783.7,461.7 L784.1,461.5 L784.4,461.1 L784.8,460.7 L785.2,460.6 L785.5,460.8 L785.9,460.9 L786.3,461.2 L786.7,461.4 L787.1,461.5 L787.5,461.4 L787.8,461.3 L788.2,461.1 L788.6,461.0 L789.0,460.8 L789.4,460.7 L789.7,460.4 L790.1,460.2 L790.5,459.9 L790.9,459.9 L791.3,460.1 L791.7,460.2 L792.2,460.4 L792.6,460.2 L792.9,460.2 L793.3,460.0 L793.7,459.9 L794.1,459.7 L794.5,459.8 L794.9,460.0 L795.2,459.8 L795.6,459.9 L796.0,460.0 L796.4,459.9 L796.8,459.5 L797.1,459.5 L797.5,459.1 L797.9,459.1 L798.3,458.9 L798.7,459.1 L799.1,459.4 L799.4,459.4 L799.8,459.6 L800.3,460.2 L800.7,460.8 L801.1,461.4 L801.5,461.7 L801.9,462.2 L802.3,462.5 L802.6,462.7 L803.0,462.9 L803.4,462.5 L803.9,462.2 L804.3,461.9 L804.7,461.7 L805.0,461.3 L805.4,461.0 L805.8,460.6 L806.2,460.2 L806.5,460.0 L806.9,459.9 L807.3,459.8 L807.7,459.4 L808.1,459.2 L808.5,459.2 L808.8,459.1 L809.2,459.4 L809.6,459.1 L810.0,459.2 L810.4,459.1 L810.7,459.3 L811.1,459.1 L811.4,459.0 L811.8,459.2 L812.2,459.0 L812.5,458.8 L812.9,458.7 L813.3,458.7 L813.7,458.4 L814.1,458.4 L814.5,458.3 L814.8,458.4 L815.2,458.4 L815.5,458.4 L815.9,458.3 L816.3,458.4 L816.6,458.3 L817.0,458.3 L817.4,458.7 L817.9,458.9 L818.3,459.3 L818.7,458.8 L819.1,458.5 L819.6,458.2 L819.9,457.7 L820.3,457.0 L820.6,456.4 L821.0,455.6 L821.4,455.2 L821.7,454.5 L822.1,455.4 L822.6,455.8 L823.0,455.9 L823.4,456.5 L823.8,457.2 L824.2,457.8 L824.5,458.1 L824.9,458.9 L825.3,459.3 L825.7,459.0 L826.1,458.7 L826.4,458.5 L826.8,458.3 L827.2,458.2 L827.6,457.9 L828.0,457.3 L828.4,456.5 L828.7,455.8 L829.1,455.2 L829.5,455.4 L829.9,455.6 L830.3,455.9 L830.7,456.3 L831.0,456.5 L831.4,456.5 L831.8,456.4 L832.2,456.3 L832.5,456.2 L832.9,456.3 L833.3,457.1 L833.7,457.9 L834.1,458.4 L834.4,459.1 L834.8,459.6 L835.2,459.3 L835.7,459.1 L836.1,458.8 L836.5,459.3 L836.9,459.7 L837.4,460.2 L837.8,459.9 L838.1,459.7 L838.5,459.4 L838.9,459.0 L839.3,458.8 L839.7,458.9 L840.0,458.9 L840.4,459.1 L840.8,459.3 L841.2,459.2 L841.6,458.9 L842.0,458.4 L842.3,457.7 L842.7,457.4 L843.1,456.8 L843.5,457.0 L843.9,457.7 L844.3,457.7 L844.6,458.2 L845.0,458.2 L845.4,457.9 L845.8,457.4 L846.2,456.7 L846.6,456.1 L846.9,455.6 L847.3,455.2 L847.7,455.1 L848.1,454.7 L848.5,453.9 L848.9,453.9 L849.2,454.7 L849.6,455.3 L850.0,456.1 L850.4,456.2 L850.8,457.0 L851.2,456.8 L851.5,456.7 L851.9,456.2 L852.3,455.9 L852.7,455.9 L853.0,456.7 L853.3,457.3 L853.7,457.2 L854.2,457.1 L854.6,457.0 L854.9,458.3 L855.3,459.8 L855.6,460.9 L856.0,460.2 L856.5,459.6 L856.9,458.7 L857.3,459.2 L857.7,459.6 L858.0,460.1 L858.4,460.4 L858.8,460.8 L859.3,461.3 L859.7,461.7 L860.1,461.8 L860.5,462.1 L860.9,462.1 L861.2,462.1 L861.6,461.8 L862.1,461.5 L862.5,461.0 L862.8,461.0 L863.1,461.1 L863.5,461.2 L863.8,461.2 L864.2,461.3 L864.5,460.9 L864.9,460.6 L865.3,460.1 L865.7,459.6 L866.1,459.0 L866.5,459.3 L866.8,459.4 L867.2,459.4 L867.6,459.7 L868.0,459.3 L868.4,459.2 L868.8,458.9 L869.2,458.5 L869.6,458.8 L870.0,458.7 L870.4,459.3 L870.7,459.5 L871.1,459.8 L871.5,460.0 L871.9,459.7 L872.3,459.7 L872.7,459.8 L873.0,459.8 L873.4,459.4 L873.8,459.2 L874.2,459.2 L874.6,458.9 L875.0,458.7 L875.3,458.5 L875.7,458.4 L876.1,458.3 L876.5,458.5 L876.9,458.5 L877.3,458.4 L877.6,458.2 L878.0,458.1 L878.4,458.0 L878.8,457.8 L879.2,458.1 L879.6,458.5 L879.9,458.8 L880.3,458.7 L880.7,458.8 L881.1,458.6 L881.5,458.2 L881.9,457.7 L882.2,457.2 L882.6,456.5 L883.0,456.4 L883.4,456.2 L883.8,456.0 L884.1,455.3 L884.5,455.2 L884.9,454.6 L885.3,454.1 L885.7,453.6 L886.1,452.9 L886.4,452.5 L886.8,453.0 L887.2,453.2 L887.6,453.4 L887.9,453.7 L888.3,453.1 L888.6,452.7 L889.0,452.3 L889.3,451.8 L889.6,450.8 L890.0,451.2 L890.4,451.8 L890.8,452.0 L891.2,452.6 L891.5,453.0 L891.9,453.4 L892.3,453.9 L892.7,454.1 L893.0,454.8 L893.4,455.0 L893.8,454.9 L894.2,455.1 L894.6,455.2 L894.9,455.0 L895.3,455.1 L895.8,454.4 L896.2,452.9 L896.6,452.2 L897.0,452.6 L897.4,452.9 L897.7,452.9 L898.1,453.4 L898.5,453.7 L898.9,454.3 L899.2,454.7 L899.6,455.2 L900.0,455.7 L900.3,456.1 L900.6,456.5 L900.9,456.9 L901.3,455.5 L901.7,453.5 L902.1,451.2 L902.5,452.1 L902.9,453.2 L903.3,453.5 L903.7,453.6 L904.0,453.6 L904.4,453.9 L904.7,454.0 L905.1,453.9 L905.5,453.9 L905.8,453.7 L906.2,453.5 L906.5,453.1 L906.9,452.7 L907.2,452.7 L907.6,452.5 L908.0,453.4 L908.3,454.2 L908.7,454.6 L909.0,455.2 L909.4,454.8 L909.8,454.1 L910.2,453.7 L910.6,453.3 L911.0,452.5 L911.3,452.4 L911.6,451.4 L912.0,451.0 L912.3,450.3 L912.7,450.1 L913.1,451.0 L913.4,451.5 L913.8,452.0 L914.2,451.7 L914.5,451.3 L914.9,451.0 L915.3,450.8 L915.7,450.7 L916.0,450.9 L916.4,451.5 L916.8,451.7 L917.1,451.7 L917.5,452.0 L917.9,451.4 L918.3,451.8 L918.7,451.7 L919.0,452.0 L919.4,452.4 L919.8,452.3 L920.1,452.4 L920.5,452.6 L920.9,451.7 L921.2,450.8 L921.6,450.4 L922.0,449.6 L922.4,448.4 L922.7,448.9 L923.1,449.6 L923.5,449.9 L923.8,450.3 L924.2,449.6 L924.6,448.9 L925.0,447.9 L925.4,447.5 L925.8,446.1 L926.2,445.6 L926.6,447.8 L926.9,448.7 L927.3,450.1 L927.7,451.3 L928.0,450.8 L928.4,450.4 L928.7,450.3 L929.1,450.0 L929.5,450.3 L929.9,449.7 L930.2,449.6 L930.6,449.6 L931.0,449.5 L931.4,449.4 L931.7,448.6 L932.1,449.2 L932.4,448.5 L932.8,448.7 L933.1,448.9 L933.4,449.6 L933.8,447.8 L934.1,446.8 L934.5,445.1 L934.8,443.6 L935.2,444.2 L935.5,445.2 L935.9,446.6 L936.3,446.9 L936.6,447.8 L937.0,448.2 L937.3,449.6 L937.6,449.9 L938.0,448.9 L938.4,448.8 L938.7,447.8 L939.1,447.2 L939.4,447.2 L939.8,447.4 L940.2,447.2 L940.5,446.5 L940.9,446.1 L941.2,446.1 L941.6,446.2 L942.0,445.6 L942.0,466.7 Z" fill="#5a6aa6" fill-opacity="0.55"/>
<path d="M96.5,466.7 L486.6,466.7 L486.6,465.7 L487.0,465.7 L487.4,465.7 L487.7,465.7 L488.1,465.6 L488.5,465.6 L488.9,465.6 L489.3,465.6 L489.7,465.6 L490.1,465.6 L490.5,465.7 L490.9,465.8 L491.3,465.8 L491.7,465.8 L492.1,465.9 L492.5,465.9 L492.9,465.9 L493.3,465.8 L493.7,465.8 L494.0,465.8 L494.4,465.7 L494.8,465.6 L495.1,465.6 L495.5,465.5 L495.8,465.4 L496.2,465.4 L496.6,465.4 L496.9,465.3 L497.3,465.2 L497.6,465.2 L498.0,465.2 L498.3,465.2 L498.7,465.1 L499.0,465.1 L499.4,465.1 L499.7,465.1 L500.1,465.1 L500.5,465.0 L500.8,464.9 L501.2,464.9 L501.6,464.7 L501.9,464.7 L502.3,464.5 L502.7,464.4 L503.1,464.1 L503.5,463.6 L503.9,463.2 L504.3,463.0 L504.7,462.9 L505.1,462.6 L505.5,462.3 L505.9,462.6 L506.2,462.9 L506.6,463.0 L506.9,463.2 L507.3,463.1 L507.6,463.1 L508.0,463.0 L508.4,462.9 L508.7,462.7 L509.1,463.0 L509.4,463.2 L509.8,463.5 L510.1,463.6 L510.5,463.7 L510.9,464.1 L511.3,464.4 L511.7,464.7 L512.1,464.9 L512.4,465.0 L512.8,465.2 L513.1,465.1 L513.4,465.0 L513.8,464.9 L514.1,464.8 L514.5,464.6 L514.9,464.6 L515.3,464.5 L515.7,464.4 L516.1,464.3 L516.5,464.3 L516.9,464.1 L517.2,464.2 L517.6,464.4 L518.0,464.5 L518.4,464.7 L518.8,464.8 L519.1,464.8 L519.5,464.9 L519.8,465.0 L520.2,465.0 L520.6,465.1 L520.9,465.1 L521.3,465.1 L521.6,465.2 L522.0,465.1 L522.4,465.1 L522.8,465.0 L523.2,464.9 L523.6,464.8 L524.0,464.7 L524.4,464.7 L524.8,464.7 L525.1,464.6 L525.5,464.5 L525.9,464.4 L526.3,464.5 L526.7,464.6 L527.1,464.7 L527.5,464.7 L527.9,464.8 L528.3,464.8 L528.7,464.9 L529.1,464.8 L529.5,464.9 L529.9,465.0 L530.3,465.0 L530.7,465.0 L531.1,465.1 L531.5,465.1 L531.9,465.2 L532.3,465.3 L532.7,465.3 L533.1,465.3 L533.5,465.3 L533.9,465.4 L534.2,465.3 L534.6,465.3 L535.0,465.3 L535.4,465.3 L535.7,465.2 L536.1,465.2 L536.5,465.1 L536.9,465.0 L537.3,465.0 L537.6,464.9 L538.0,464.9 L538.4,464.9 L538.7,464.9 L539.1,465.0 L539.4,465.1 L539.8,465.1 L540.1,465.2 L540.5,465.2 L540.8,465.2 L541.2,465.2 L541.6,465.2 L542.0,465.2 L542.3,465.2 L542.7,465.2 L543.1,465.1 L543.5,465.1 L543.9,465.1 L544.2,465.1 L544.6,465.1 L545.0,465.1 L545.3,465.1 L545.6,465.1 L546.0,465.2 L546.3,465.3 L546.7,465.3 L547.0,465.3 L547.4,465.2 L547.7,465.3 L548.1,465.3 L548.4,465.3 L548.8,465.2 L549.1,465.2 L549.5,465.2 L549.9,465.2 L550.3,465.2 L550.6,465.2 L551.0,465.2 L551.4,465.3 L551.8,465.3 L552.1,465.2 L552.5,465.2 L552.9,465.2 L553.2,465.2 L553.6,465.2 L554.0,465.2 L554.4,465.2 L554.7,465.2 L555.1,465.2 L555.5,465.3 L555.8,465.4 L556.2,465.5 L556.5,465.6 L556.9,465.7 L557.3,465.7 L557.7,465.8 L558.1,465.9 L558.4,465.9 L558.8,465.9 L559.2,465.9 L559.6,465.9 L560.0,465.9 L560.3,465.9 L560.8,465.8 L561.2,465.8 L561.6,465.8 L562.0,465.8 L562.3,465.8 L562.7,465.8 L563.1,465.8 L563.5,465.8 L563.9,465.8 L564.3,465.9 L564.6,465.9 L565.0,465.9 L565.4,465.9 L565.8,465.9 L566.2,465.9 L566.5,465.9 L566.9,465.9 L567.3,465.9 L567.7,465.9 L568.1,465.9 L568.5,465.9 L568.8,465.8 L569.2,465.8 L569.6,465.8 L570.0,465.8 L570.3,465.8 L570.7,465.8 L571.1,465.8 L571.4,465.8 L571.8,465.8 L572.1,465.8 L572.5,465.7 L572.9,465.7 L573.2,465.7 L573.6,465.7 L574.0,465.7 L574.3,465.7 L574.7,465.7 L575.1,465.6 L575.5,465.6 L575.9,465.6 L576.2,465.5 L576.6,465.5 L577.0,465.5 L577.4,465.5 L577.8,465.5 L578.2,465.5 L578.5,465.5 L578.9,465.5 L579.3,465.5 L579.6,465.5 L580.0,465.6 L580.3,465.6 L580.7,465.6 L581.1,465.5 L581.5,465.3 L581.8,465.2 L582.2,465.0 L582.6,464.9 L583.0,464.9 L583.4,464.9 L583.8,464.8 L584.2,464.8 L584.5,464.7 L584.9,464.9 L585.3,464.9 L585.7,465.0 L586.0,465.0 L586.4,465.1 L586.8,465.0 L587.2,464.9 L587.6,464.8 L587.9,464.6 L588.3,464.5 L588.7,464.3 L589.2,464.2 L589.6,463.9 L590.0,463.9 L590.4,463.8 L590.7,463.8 L591.1,463.8 L591.5,463.9 L591.9,464.2 L592.4,464.4 L592.8,464.6 L593.1,464.5 L593.5,464.5 L593.9,464.4 L594.2,464.3 L594.6,464.2 L595.0,464.1 L595.3,464.1 L595.7,464.2 L596.1,464.2 L596.5,464.3 L596.9,464.3 L597.2,464.4 L597.6,464.4 L598.0,464.3 L598.4,464.3 L598.8,464.3 L599.2,464.3 L599.5,464.3 L599.9,464.4 L600.3,464.4 L600.6,464.4 L601.0,464.3 L601.4,464.4 L601.7,464.4 L602.1,464.5 L602.5,464.6 L602.9,464.6 L603.2,464.8 L603.6,464.8 L604.0,464.8 L604.4,464.8 L604.8,464.8 L605.2,464.8 L605.5,464.8 L605.9,464.7 L606.3,464.7 L606.7,464.7 L607.1,464.6 L607.5,464.7 L607.8,464.7 L608.2,464.7 L608.6,464.6 L609.0,464.6 L609.4,464.6 L609.7,464.6 L610.1,464.7 L610.5,464.7 L610.8,464.7 L611.2,464.8 L611.6,464.9 L612.0,465.0 L612.5,465.1 L612.8,465.1 L613.2,465.1 L613.5,465.0 L613.9,465.1 L614.3,465.1 L614.6,465.1 L615.0,465.1 L615.4,465.1 L615.8,465.0 L616.2,465.1 L616.5,465.1 L616.9,465.0 L617.3,465.0 L617.7,464.9 L618.1,464.9 L618.5,464.8 L618.8,464.8 L619.2,464.8 L619.6,464.8 L619.9,464.8 L620.3,464.7 L620.7,464.6 L621.0,464.7 L621.4,464.6 L621.7,464.6 L622.1,464.5 L622.5,464.5 L622.8,464.4 L623.2,464.4 L623.5,464.4 L623.9,464.3 L624.3,464.4 L624.7,464.5 L625.0,464.5 L625.4,464.6 L625.8,464.6 L626.2,464.6 L626.6,464.7 L626.9,464.8 L627.3,464.9 L627.7,464.9 L628.1,465.1 L628.6,465.3 L629.0,465.4 L629.4,465.5 L629.8,465.5 L630.3,465.6 L630.7,465.5 L631.1,465.4 L631.5,465.3 L631.9,465.2 L632.3,465.2 L632.6,465.2 L633.0,465.1 L633.4,465.1 L633.7,465.1 L634.1,465.0 L634.5,464.9 L634.9,464.9 L635.2,464.8 L635.6,464.8 L636.0,464.8 L636.4,464.7 L636.8,464.7 L637.2,464.7 L637.5,464.5 L637.9,464.5 L638.3,464.5 L638.7,464.5 L639.0,464.5 L639.4,464.5 L639.7,464.5 L640.1,464.5 L640.5,464.6 L640.8,464.6 L641.2,464.5 L641.6,464.6 L641.9,464.6 L642.3,464.7 L642.7,464.6 L643.0,464.6 L643.4,464.6 L643.8,464.7 L644.1,464.6 L644.5,464.7 L644.9,464.7 L645.2,464.6 L645.6,464.7 L645.9,464.6 L646.3,464.5 L646.7,464.5 L647.0,464.5 L647.4,464.4 L647.8,464.4 L648.1,464.3 L648.5,464.3 L648.9,464.2 L649.2,464.1 L649.6,464.0 L650.0,464.0 L650.3,464.0 L650.7,464.0 L651.1,464.0 L651.4,464.0 L651.8,464.0 L652.1,464.0 L652.5,464.0 L652.8,464.0 L653.2,464.0 L653.5,464.1 L653.9,464.1 L654.3,464.2 L654.6,464.1 L655.0,464.2 L655.4,464.2 L655.7,464.3 L656.1,464.3 L656.4,464.2 L656.8,464.2 L657.2,464.2 L657.5,464.2 L657.9,464.2 L658.2,464.2 L658.6,464.2 L658.9,464.2 L659.3,464.1 L659.7,464.0 L660.0,464.1 L660.4,464.1 L660.7,464.0 L661.1,464.0 L661.5,464.0 L661.9,463.8 L662.3,463.6 L662.8,463.4 L663.1,463.4 L663.5,463.2 L663.8,463.1 L664.2,462.9 L664.6,462.9 L664.9,462.8 L665.3,462.8 L665.7,462.6 L666.1,462.6 L666.5,462.4 L666.8,462.3 L667.2,462.2 L667.6,462.2 L668.0,462.1 L668.3,462.2 L668.7,462.2 L669.0,462.3 L669.4,462.2 L669.8,462.3 L670.2,461.8 L670.6,461.4 L671.0,460.9 L671.4,460.5 L671.8,460.0 L672.2,459.4 L672.6,459.1 L672.9,458.6 L673.3,457.9 L673.7,457.2 L674.1,457.7 L674.6,458.4 L675.0,459.0 L675.4,459.2 L675.8,459.3 L676.3,459.6 L676.7,459.2 L677.1,458.8 L677.5,458.5 L677.9,458.1 L678.3,457.4 L678.7,456.7 L679.1,455.7 L679.5,455.2 L679.9,454.9 L680.3,454.3 L680.7,454.0 L681.2,454.4 L681.6,455.0 L682.0,455.3 L682.4,455.0 L682.7,454.6 L683.1,454.3 L683.5,453.9 L683.9,453.6 L684.2,453.5 L684.6,453.5 L685.0,453.8 L685.3,453.7 L685.7,454.0 L686.1,453.8 L686.4,453.8 L686.8,453.4 L687.2,452.9 L687.6,452.6 L687.9,452.9 L688.3,452.2 L688.7,452.9 L689.1,453.5 L689.5,453.9 L689.9,454.5 L690.2,454.7 L690.6,454.3 L691.0,454.1 L691.4,453.6 L691.8,453.1 L692.2,454.1 L692.6,455.0 L693.0,456.1 L693.4,456.8 L693.9,457.2 L694.3,457.8 L694.7,458.4 L695.1,458.3 L695.5,458.1 L695.9,458.0 L696.2,457.9 L696.6,457.8 L697.0,458.2 L697.4,458.1 L697.8,458.6 L698.2,458.7 L698.5,458.9 L698.9,459.1 L699.3,458.9 L699.7,459.0 L700.1,459.0 L700.5,458.7 L700.8,458.9 L701.2,459.1 L701.5,459.2 L701.9,459.0 L702.3,459.3 L702.6,459.5 L703.0,459.6 L703.4,459.4 L703.8,458.9 L704.2,458.5 L704.5,458.1 L704.9,457.7 L705.3,457.3 L705.7,457.1 L706.1,456.9 L706.5,456.5 L706.8,456.3 L707.2,456.0 L707.6,456.2 L707.9,456.0 L708.3,456.0 L708.7,455.8 L709.0,455.8 L709.4,455.8 L709.8,455.8 L710.1,456.4 L710.5,456.4 L710.9,456.4 L711.2,456.5 L711.7,457.2 L712.1,457.6 L712.5,457.7 L712.9,456.9 L713.3,456.3 L713.7,455.8 L714.1,454.9 L714.4,454.1 L714.8,453.4 L715.2,453.0 L715.6,452.7 L716.0,452.1 L716.4,451.8 L716.7,452.6 L717.1,452.7 L717.5,452.4 L717.9,452.7 L718.3,452.9 L718.6,452.7 L719.0,452.8 L719.4,452.4 L719.8,452.2 L720.2,452.1 L720.5,452.5 L720.9,453.2 L721.3,453.5 L721.6,453.5 L722.0,453.9 L722.4,454.2 L722.7,454.7 L723.1,454.9 L723.5,455.2 L723.9,455.3 L724.3,455.1 L724.6,455.5 L725.0,455.6 L725.4,455.8 L725.7,455.6 L726.1,455.8 L726.5,455.8 L726.8,455.8 L727.2,456.1 L727.6,456.3 L728.0,456.4 L728.3,456.4 L728.7,456.4 L729.1,457.0 L729.5,457.5 L729.9,457.8 L730.3,457.8 L730.6,458.2 L731.0,458.7 L731.4,458.6 L731.8,458.3 L732.2,457.8 L732.6,457.4 L732.9,456.9 L733.3,456.9 L733.7,457.0 L734.1,457.0 L734.5,457.2 L734.9,457.3 L735.2,457.2 L735.6,457.3 L736.0,457.1 L736.4,456.9 L736.8,456.7 L737.2,456.9 L737.6,457.5 L738.0,458.0 L738.4,457.7 L738.8,457.7 L739.1,457.3 L739.5,457.2 L739.9,456.9 L740.2,456.5 L740.6,456.5 L741.0,456.4 L741.4,456.7 L741.7,456.7 L742.1,456.8 L742.5,456.9 L742.9,457.0 L743.3,457.4 L743.6,457.7 L744.0,457.6 L744.4,457.8 L744.8,458.0 L745.1,457.9 L745.5,458.1 L745.9,458.1 L746.3,458.2 L746.7,458.9 L747.1,459.6 L747.6,460.1 L747.9,459.9 L748.3,460.0 L748.7,459.8 L749.1,459.9 L749.5,459.9 L749.9,460.0 L750.2,460.0 L750.6,460.2 L751.0,460.2 L751.4,460.2 L751.8,460.6 L752.2,461.2 L752.7,461.5 L753.1,461.6 L753.4,461.6 L753.8,461.6 L754.2,461.8 L754.6,461.9 L755.0,461.9 L755.3,461.8 L755.7,461.7 L756.1,461.8 L756.5,461.7 L756.9,461.8 L757.3,461.8 L757.6,461.6 L758.0,461.6 L758.4,461.6 L758.8,461.8 L759.2,461.7 L759.6,461.8 L759.9,461.8 L760.3,462.0 L760.7,461.9 L761.1,461.6 L761.5,461.3 L761.9,461.2 L762.2,461.1 L762.6,461.1 L763.0,461.4 L763.4,461.4 L763.8,461.6 L764.2,461.7 L764.5,461.9 L764.9,461.8 L765.3,462.0 L765.7,462.0 L766.1,462.2 L766.4,462.2 L766.8,462.1 L767.2,462.2 L767.5,462.3 L767.9,462.3 L768.3,462.3 L768.6,462.4 L769.0,462.4 L769.3,462.2 L769.7,462.3 L770.0,462.4 L770.4,462.4 L770.8,462.5 L771.1,462.4 L771.5,462.6 L771.9,462.5 L772.3,462.5 L772.6,462.5 L773.0,462.5 L773.5,462.6 L773.9,462.7 L774.3,462.8 L774.7,462.9 L775.1,462.8 L775.5,462.9 L775.8,463.0 L776.2,463.1 L776.6,463.0 L777.0,463.0 L777.3,463.0 L777.7,463.0 L778.0,462.9 L778.4,462.9 L778.8,462.9 L779.2,462.9 L779.5,463.0 L779.9,463.0 L780.3,463.0 L780.7,463.0 L781.1,463.0 L781.4,462.9 L781.8,462.9 L782.1,463.0 L782.5,462.9 L782.9,462.8 L783.2,462.7 L783.7,462.4 L784.1,462.2 L784.5,461.9 L784.9,462.0 L785.3,461.9 L785.7,461.8 L786.0,461.6 L786.4,461.6 L786.8,461.6 L787.2,461.6 L787.6,461.9 L788.0,461.7 L788.3,461.7 L788.7,461.7 L789.1,461.6 L789.5,461.5 L789.9,461.6 L790.3,461.5 L790.6,461.6 L791.0,461.9 L791.4,462.2 L791.8,461.6 L792.2,460.9 L792.6,460.9 L793.0,460.7 L793.4,460.6 L793.8,460.4 L794.2,460.5 L794.6,460.6 L795.0,460.6 L795.4,460.4 L795.7,460.5 L796.1,460.3 L796.5,460.3 L796.9,460.0 L797.3,460.1 L797.7,460.2 L798.0,460.2 L798.4,460.1 L798.8,460.1 L799.2,460.2 L799.6,460.4 L800.0,460.3 L800.3,460.4 L800.7,460.3 L801.1,460.4 L801.5,460.4 L801.8,460.5 L802.2,460.5 L802.6,460.6 L802.9,460.6 L803.3,460.5 L803.7,460.7 L804.0,460.8 L804.4,460.9 L804.7,460.8 L805.1,460.8 L805.4,460.9 L805.8,460.9 L806.2,460.8 L806.5,460.7 L806.9,460.5 L807.3,460.5 L807.7,460.3 L808.1,460.1 L808.5,459.8 L808.8,459.9 L809.2,459.9 L809.6,459.6 L810.0,459.6 L810.4,459.6 L810.7,459.6 L811.1,459.6 L811.4,459.6 L811.8,459.6 L812.2,460.0 L812.5,459.8 L812.9,459.8 L813.3,459.8 L813.6,459.8 L814.0,459.8 L814.4,459.8 L814.7,460.0 L815.1,459.9 L815.5,460.2 L815.9,460.2 L816.2,460.5 L816.6,460.6 L817.0,460.7 L817.4,460.7 L817.7,460.7 L818.1,460.9 L818.5,460.8 L818.8,460.9 L819.2,460.9 L819.6,461.0 L819.9,460.9 L820.3,461.0 L820.7,461.0 L821.0,460.9 L821.4,460.7 L821.7,460.9 L822.1,460.9 L822.5,460.9 L822.8,460.7 L823.2,460.7 L823.6,460.7 L823.9,460.7 L824.3,460.6 L824.7,460.5 L825.0,460.4 L825.4,460.4 L825.8,460.2 L826.2,459.9 L826.6,459.9 L826.9,459.8 L827.3,459.4 L827.7,459.3 L828.0,459.3 L828.4,459.0 L828.8,458.9 L829.1,458.6 L829.5,458.7 L829.9,458.8 L830.2,458.5 L830.6,458.4 L830.9,458.2 L831.3,458.4 L831.7,458.3 L832.1,458.1 L832.4,458.3 L832.8,458.3 L833.2,458.2 L833.5,458.0 L833.9,457.8 L834.3,457.7 L834.7,457.3 L835.1,457.3 L835.5,457.0 L835.8,457.1 L836.2,456.8 L836.5,456.6 L836.9,456.8 L837.3,456.8 L837.6,456.8 L838.0,456.6 L838.4,456.7 L838.7,456.7 L839.1,456.6 L839.5,457.1 L839.8,457.5 L840.2,457.3 L840.6,457.4 L840.9,457.4 L841.3,457.2 L841.7,456.8 L842.1,456.7 L842.5,456.7 L842.9,456.7 L843.2,456.1 L843.6,455.9 L844.0,455.8 L844.4,455.3 L844.8,455.2 L845.2,454.9 L845.5,454.0 L845.9,453.7 L846.3,453.3 L846.7,452.7 L847.1,452.8 L847.4,451.5 L847.8,451.2 L848.2,450.5 L848.6,451.0 L849.0,451.4 L849.4,451.2 L849.7,451.9 L850.1,451.7 L850.5,451.9 L850.9,451.7 L851.3,451.4 L851.7,451.3 L852.0,451.3 L852.5,451.5 L852.9,451.6 L853.3,451.8 L853.7,452.1 L854.1,452.2 L854.5,452.3 L854.9,452.6 L855.2,452.9 L855.6,452.5 L856.0,452.7 L856.4,452.5 L856.8,452.2 L857.1,452.0 L857.5,452.1 L857.9,451.9 L858.3,451.8 L858.7,451.4 L859.1,451.3 L859.4,450.9 L859.8,450.9 L860.2,450.6 L860.6,450.5 L861.0,450.5 L861.4,450.7 L861.7,450.9 L862.1,451.1 L862.5,451.7 L862.9,451.7 L863.3,451.7 L863.7,452.1 L864.0,452.1 L864.4,452.2 L864.8,452.7 L865.2,452.9 L865.7,453.1 L866.1,454.3 L866.5,453.9 L866.9,453.0 L867.3,452.6 L867.7,452.5 L868.1,451.8 L868.5,451.6 L868.8,451.2 L869.2,451.2 L869.6,451.3 L870.0,452.2 L870.4,452.6 L870.7,453.0 L871.1,453.4 L871.5,452.8 L871.9,452.9 L872.3,452.7 L872.7,452.7 L873.0,452.6 L873.4,453.0 L873.8,453.4 L874.2,454.0 L874.6,454.4 L875.0,454.6 L875.3,454.3 L875.7,454.2 L876.1,453.9 L876.5,453.3 L876.9,453.0 L877.3,452.8 L877.6,452.9 L878.0,452.7 L878.4,452.6 L878.8,452.5 L879.2,452.2 L879.6,452.0 L879.9,451.7 L880.3,451.6 L880.7,452.0 L881.1,451.9 L881.5,452.1 L881.9,451.3 L882.2,451.1 L882.6,451.4 L883.0,451.3 L883.4,451.0 L883.8,450.7 L884.1,450.1 L884.5,449.7 L885.0,448.8 L885.4,447.9 L885.8,446.6 L886.2,446.4 L886.6,446.4 L887.0,445.5 L887.3,445.1 L887.7,445.1 L888.1,444.8 L888.5,444.6 L888.8,445.0 L889.2,444.5 L889.5,443.9 L889.9,444.0 L890.3,443.7 L890.6,443.6 L891.0,443.7 L891.4,444.1 L891.7,444.2 L892.1,445.2 L892.5,445.2 L892.8,445.1 L893.2,444.9 L893.6,444.2 L893.9,443.9 L894.3,443.7 L894.7,443.7 L895.1,443.2 L895.5,443.9 L895.8,444.5 L896.2,444.7 L896.6,444.8 L897.0,444.9 L897.4,444.6 L897.7,444.5 L898.1,444.2 L898.5,444.5 L898.9,444.3 L899.3,444.5 L899.7,444.5 L900.0,444.4 L900.4,444.6 L900.8,444.7 L901.1,445.1 L901.5,445.4 L901.9,445.7 L902.2,446.4 L902.6,446.9 L902.9,447.8 L903.3,448.5 L903.7,447.8 L904.0,447.1 L904.4,446.7 L904.7,446.8 L905.1,447.4 L905.5,447.3 L905.8,447.8 L906.2,448.2 L906.5,448.8 L906.9,448.6 L907.2,448.8 L907.6,449.2 L908.0,449.2 L908.3,448.6 L908.7,447.2 L909.0,446.7 L909.4,446.4 L909.8,446.1 L910.2,445.6 L910.6,445.3 L911.0,445.2 L911.3,445.4 L911.7,445.0 L912.1,444.5 L912.4,444.0 L912.8,443.5 L913.2,443.2 L913.6,443.4 L914.0,443.2 L914.3,443.3 L914.7,442.4 L915.1,442.7 L915.5,442.3 L915.9,443.1 L916.3,442.8 L916.6,443.7 L917.0,443.4 L917.4,443.4 L917.8,442.9 L918.2,443.0 L918.6,443.0 L918.9,443.2 L919.3,442.8 L919.7,442.0 L920.1,441.3 L920.5,441.8 L920.9,441.2 L921.2,440.6 L921.6,440.8 L922.0,440.3 L922.4,440.0 L922.8,439.9 L923.2,439.9 L923.5,440.0 L923.9,439.7 L924.3,440.5 L924.7,440.4 L925.1,439.5 L925.5,439.8 L925.8,440.1 L926.2,439.6 L926.6,440.7 L926.9,440.8 L927.3,441.3 L927.7,441.7 L928.0,441.3 L928.4,440.9 L928.8,441.0 L929.2,441.4 L929.6,441.4 L929.9,441.8 L930.3,441.4 L930.7,440.8 L931.1,441.1 L931.5,440.9 L931.8,441.7 L932.2,442.0 L932.6,441.9 L932.9,441.3 L933.3,440.7 L933.7,440.5 L934.1,439.7 L934.4,439.7 L934.8,439.1 L935.2,440.2 L935.5,440.7 L935.9,440.9 L936.3,441.7 L936.6,441.6 L937.0,442.0 L937.3,442.2 L937.6,441.6 L938.0,441.9 L938.4,442.2 L938.7,442.5 L939.1,442.5 L939.4,443.4 L939.8,443.2 L940.2,444.4 L940.5,444.9 L940.9,444.9 L941.2,445.3 L941.6,445.5 L942.0,445.6 L942.4,448.1 L942.4,466.7 Z" fill="#4dc39b" fill-opacity="0.65"/>
<path d="M96.5,466.8 L486.3,466.8 L486.6,465.7 L486.6,465.7 L487.0,465.7 L487.4,465.7 L487.7,465.7 L488.1,465.6 L488.5,465.6 L488.9,465.6 L489.3,465.6 L489.7,465.6 L490.1,465.6 L490.5,465.7 L490.9,465.8 L491.3,465.8 L491.7,465.8 L492.1,465.9 L492.5,465.9 L492.9,465.9 L493.3,465.8 L493.7,465.8 L494.0,465.8 L494.4,465.7 L494.8,465.6 L495.1,465.6 L495.5,465.5 L495.8,465.4 L496.2,465.4 L496.6,465.4 L496.9,465.3 L497.3,465.2 L497.6,465.2 L498.0,465.2 L498.3,465.2 L498.7,465.1 L499.0,465.1 L499.4,465.1 L499.7,465.1 L500.1,465.1 L500.5,465.0 L500.8,464.9 L501.2,464.9 L501.6,464.7 L501.9,464.7 L502.3,464.5 L502.7,464.4 L503.1,464.1 L503.5,463.6 L503.9,463.2 L504.3,463.0 L504.7,462.9 L505.1,462.6 L505.5,462.3 L505.9,462.6 L506.2,462.9 L506.6,463.0 L506.9,463.2 L507.3,463.1 L507.6,463.1 L508.0,463.0 L508.4,462.9 L508.7,462.7 L509.1,463.0 L509.4,463.2 L509.8,463.5 L510.1,463.6 L510.5,463.7 L510.9,464.1 L511.3,464.4 L511.7,464.7 L512.1,464.9 L512.4,465.0 L512.8,465.2 L513.1,465.1 L513.4,465.0 L513.8,464.9 L514.1,464.8 L514.5,464.6 L514.9,464.6 L515.3,464.5 L515.7,464.4 L516.1,464.3 L516.5,464.3 L516.9,464.1 L517.2,464.2 L517.6,464.4 L518.0,464.5 L518.4,464.7 L518.8,464.8 L519.1,464.8 L519.5,464.9 L519.8,465.0 L520.2,465.0 L520.6,465.1 L520.9,465.1 L521.3,465.1 L521.6,465.2 L522.0,465.1 L522.4,465.1 L522.8,465.0 L523.2,464.9 L523.6,464.8 L524.0,464.7 L524.4,464.7 L524.8,464.7 L525.1,464.6 L525.5,464.5 L525.9,464.4 L526.3,464.5 L526.7,464.6 L527.1,464.7 L527.5,464.7 L527.9,464.8 L528.3,464.8 L528.7,464.9 L529.1,464.8 L529.5,464.9 L529.9,465.0 L530.3,465.0 L530.7,465.0 L531.1,465.1 L531.5,465.1 L531.9,465.2 L532.3,465.3 L532.7,465.3 L533.1,465.3 L533.5,465.3 L533.9,465.4 L534.2,465.3 L534.6,465.3 L535.0,465.3 L535.4,465.3 L535.7,465.2 L536.1,465.2 L536.5,465.1 L536.9,465.0 L537.3,465.0 L537.6,464.9 L538.0,464.9 L538.4,464.9 L538.7,464.9 L539.1,465.0 L539.4,465.1 L539.8,465.1 L540.1,465.2 L540.5,465.2 L540.8,465.2 L541.2,465.2 L541.6,465.2 L542.0,465.2 L542.3,465.2 L542.7,465.2 L543.1,465.1 L543.5,465.1 L543.9,465.1 L544.2,465.1 L544.6,465.1 L545.0,465.1 L545.3,465.1 L545.6,465.1 L546.0,465.2 L546.3,465.3 L546.7,465.3 L547.0,465.3 L547.4,465.2 L547.7,465.3 L548.1,465.3 L548.4,465.3 L548.8,465.2 L549.1,465.2 L549.5,465.2 L549.9,465.2 L550.3,465.2 L550.6,465.2 L551.0,465.2 L551.4,465.3 L551.8,465.3 L552.1,465.2 L552.5,465.2 L552.9,465.2 L553.2,465.2 L553.6,465.2 L554.0,465.2 L554.4,465.2 L554.7,465.2 L555.1,465.2 L555.5,465.3 L555.8,465.4 L556.2,465.5 L556.5,465.6 L556.9,465.7 L557.3,465.7 L557.7,465.8 L558.1,465.9 L558.4,465.9 L558.8,465.9 L559.2,465.9 L559.6,465.9 L560.0,465.9 L560.3,465.9 L560.8,465.8 L561.2,465.8 L561.6,465.8 L562.0,465.8 L562.3,465.8 L562.7,465.8 L563.1,465.8 L563.5,465.8 L563.9,465.8 L564.3,465.9 L564.6,465.9 L565.0,465.9 L565.4,465.9 L565.8,465.9 L566.2,465.9 L566.5,465.9 L566.9,465.9 L567.3,465.9 L567.7,465.9 L568.1,465.9 L568.5,465.9 L568.8,465.8 L569.2,465.8 L569.6,465.8 L570.0,465.8 L570.3,465.8 L570.7,465.8 L571.1,465.8 L571.4,465.8 L571.8,465.8 L572.1,465.8 L572.5,465.7 L572.9,465.7 L573.2,465.7 L573.6,465.7 L574.0,465.7 L574.3,465.7 L574.7,465.7 L575.1,465.6 L575.5,465.6 L575.9,465.6 L576.2,465.5 L576.6,465.5 L577.0,465.5 L577.4,465.5 L577.8,465.5 L578.2,465.5 L578.5,465.5 L578.9,465.5 L579.3,465.5 L579.6,465.5 L580.0,465.6 L580.3,465.6 L580.7,465.6 L581.1,465.5 L581.5,465.3 L581.8,465.2 L582.2,465.0 L582.6,464.9 L583.0,464.9 L583.4,464.9 L583.8,464.8 L584.2,464.8 L584.5,464.7 L584.9,464.9 L585.3,464.9 L585.7,465.0 L586.0,465.0 L586.4,465.1 L586.8,465.0 L587.2,464.9 L587.6,464.8 L587.9,464.6 L588.3,464.5 L588.7,464.3 L589.2,464.2 L589.6,463.9 L590.0,463.9 L590.4,463.8 L590.7,463.8 L591.1,463.8 L591.5,463.9 L591.9,464.2 L592.4,464.4 L592.8,464.6 L593.1,464.5 L593.5,464.5 L593.9,464.4 L594.2,464.3 L594.6,464.2 L595.0,464.1 L595.3,464.1 L595.7,464.2 L596.1,464.2 L596.5,464.3 L596.9,464.3 L597.2,464.4 L597.6,464.4 L598.0,464.3 L598.4,464.3 L598.8,464.3 L599.2,464.3 L599.5,464.3 L599.9,464.4 L600.3,464.4 L600.6,464.4 L601.0,464.3 L601.4,464.4 L601.7,464.4 L602.1,464.5 L602.5,464.6 L602.9,464.6 L603.2,464.8 L603.6,464.8 L604.0,464.8 L604.4,464.8 L604.8,464.8 L605.2,464.8 L605.5,464.8 L605.9,464.7 L606.3,464.7 L606.7,464.7 L607.1,464.6 L607.5,464.7 L607.8,464.7 L608.2,464.7 L608.6,464.6 L609.0,464.6 L609.4,464.6 L609.7,464.6 L610.1,464.7 L610.5,464.7 L610.8,464.7 L611.2,464.8 L611.6,464.9 L612.0,465.0 L612.5,465.1 L612.8,465.1 L613.2,465.1 L613.5,465.0 L613.9,465.1 L614.3,465.1 L614.6,465.1 L615.0,465.1 L615.4,465.1 L615.8,465.0 L616.2,465.1 L616.5,465.1 L616.9,465.0 L617.3,465.0 L617.7,464.9 L618.1,464.9 L618.5,464.8 L618.8,464.8 L619.2,464.8 L619.6,464.8 L619.9,464.8 L620.3,464.7 L620.7,464.6 L621.0,464.7 L621.4,464.6 L621.7,464.6 L622.1,464.5 L622.5,464.5 L622.8,464.4 L623.2,464.4 L623.5,464.4 L623.9,464.3 L624.3,464.4 L624.7,464.5 L625.0,464.5 L625.4,464.6 L625.8,464.6 L626.2,464.6 L626.6,464.7 L626.9,464.8 L627.3,464.9 L627.7,464.9 L628.1,465.1 L628.6,465.3 L629.0,465.4 L629.4,465.5 L629.8,465.5 L630.3,465.6 L630.7,465.5 L631.1,465.4 L631.5,465.3 L631.9,465.2 L632.3,465.2 L632.6,465.2 L633.0,465.1 L633.4,465.1 L633.7,465.1 L634.1,465.0 L634.5,464.9 L634.9,464.9 L635.2,464.8 L635.6,464.8 L636.0,464.8 L636.4,464.7 L636.8,464.7 L637.2,464.7 L637.5,464.5 L637.9,464.5 L638.3,464.5 L638.7,464.5 L639.0,464.5 L639.4,464.5 L639.7,464.5 L640.1,464.5 L640.5,464.6 L640.8,464.6 L641.2,464.5 L641.6,464.6 L641.9,464.6 L642.3,464.7 L642.7,464.6 L643.0,464.6 L643.4,464.6 L643.8,464.7 L644.1,464.6 L644.5,464.7 L644.9,464.7 L645.2,464.6 L645.6,464.7 L645.9,464.6 L646.3,464.5 L646.7,464.5 L647.0,464.5 L647.4,464.4 L647.8,464.4 L648.1,464.3 L648.5,464.3 L648.9,464.2 L649.2,464.1 L649.6,464.0 L650.0,464.0 L650.3,464.0 L650.7,464.0 L651.1,464.0 L651.4,464.0 L651.8,464.0 L652.1,464.0 L652.5,464.0 L652.8,464.0 L653.2,464.0 L653.5,464.1 L653.9,464.1 L654.3,464.2 L654.6,464.1 L655.0,464.2 L655.4,464.2 L655.7,464.3 L656.1,464.3 L656.4,464.2 L656.8,464.2 L657.2,464.2 L657.5,464.2 L657.9,464.2 L658.2,464.2 L658.6,464.2 L658.9,464.2 L659.3,464.1 L659.7,464.0 L660.0,464.1 L660.4,464.1 L660.7,464.0 L661.1,464.0 L661.5,464.0 L661.9,463.8 L662.3,463.6 L662.8,463.4 L663.1,463.4 L663.5,463.2 L663.8,463.1 L664.2,462.9 L664.6,462.9 L664.9,462.8 L665.3,462.8 L665.7,462.6 L666.1,462.6 L666.5,462.4 L666.8,462.3 L667.2,462.2 L667.6,462.2 L668.0,462.1 L668.3,462.2 L668.7,462.2 L669.0,462.3 L669.4,462.2 L669.8,462.3 L670.2,461.8 L670.6,461.4 L671.0,460.9 L671.4,460.5 L671.8,460.0 L672.2,459.4 L672.6,459.1 L672.9,458.6 L673.3,457.9 L673.7,457.2 L674.1,457.7 L674.6,458.4 L675.0,459.0 L675.4,459.2 L675.8,459.3 L676.3,459.6 L676.7,459.2 L677.1,458.8 L677.5,458.5 L677.9,458.1 L678.3,457.4 L678.7,456.7 L679.1,455.7 L679.5,455.2 L679.9,454.9 L680.3,454.3 L680.7,454.0 L681.2,454.4 L681.6,455.0 L682.0,455.3 L682.4,455.0 L682.7,454.6 L683.1,454.3 L683.5,453.9 L683.9,453.6 L684.2,453.5 L684.6,453.5 L685.0,453.8 L685.3,453.7 L685.7,454.0 L686.1,453.8 L686.4,453.8 L686.8,453.4 L687.2,452.9 L687.6,452.6 L687.9,452.9 L688.3,452.2 L688.7,452.9 L689.1,453.5 L689.5,453.9 L689.9,454.5 L690.2,454.7 L690.6,454.3 L691.0,454.1 L691.4,453.6 L691.8,453.1 L692.2,454.1 L692.6,455.0 L693.0,456.1 L693.4,456.8 L693.9,457.2 L694.3,457.8 L694.7,458.4 L695.1,458.3 L695.5,458.1 L695.9,458.0 L696.2,457.9 L696.6,457.8 L697.0,458.2 L697.4,458.1 L697.8,458.6 L698.2,458.7 L698.5,458.9 L698.9,459.1 L699.3,458.9 L699.7,459.0 L700.1,459.0 L700.5,458.7 L700.8,458.9 L701.2,459.1 L701.5,459.2 L701.9,459.0 L702.3,459.3 L702.6,459.5 L703.0,459.6 L703.4,459.4 L703.8,458.9 L704.2,458.5 L704.5,458.1 L704.9,457.7 L705.3,457.3 L705.7,457.1 L706.1,456.9 L706.5,456.5 L706.8,456.3 L707.2,456.0 L707.6,456.2 L707.9,456.0 L708.3,456.0 L708.7,455.8 L709.0,455.8 L709.4,455.8 L709.8,455.8 L710.1,456.4 L710.5,456.4 L710.9,456.4 L711.2,456.5 L711.7,457.2 L712.1,457.6 L712.5,457.7 L712.9,456.9 L713.3,456.3 L713.7,455.8 L714.1,454.9 L714.4,454.1 L714.8,453.4 L715.2,453.0 L715.6,452.7 L716.0,452.1 L716.4,451.8 L716.7,452.6 L717.1,452.7 L717.5,452.4 L717.9,452.7 L718.3,452.9 L718.6,452.7 L719.0,452.8 L719.4,452.4 L719.8,452.2 L720.2,452.1 L720.5,452.5 L720.9,453.2 L721.3,453.5 L721.6,453.5 L722.0,453.9 L722.4,454.2 L722.7,454.7 L723.1,454.9 L723.5,455.2 L723.9,455.3 L724.3,455.1 L724.6,455.5 L725.0,455.6 L725.4,455.8 L725.7,455.6 L726.1,455.8 L726.5,455.8 L726.8,455.8 L727.2,456.1 L727.6,456.3 L728.0,456.4 L728.3,456.4 L728.7,456.4 L729.1,457.0 L729.5,457.5 L729.9,457.8 L730.3,457.8 L730.6,458.2 L731.0,458.7 L731.4,458.6 L731.8,458.3 L732.2,457.8 L732.6,457.4 L732.9,456.9 L733.3,456.9 L733.7,457.0 L734.1,457.0 L734.5,457.2 L734.9,457.3 L735.2,457.2 L735.6,457.3 L736.0,457.1 L736.4,456.9 L736.8,456.7 L737.2,456.9 L737.6,457.5 L738.0,458.0 L738.4,457.7 L738.8,457.7 L739.1,457.3 L739.5,457.2 L739.9,456.9 L740.2,456.5 L740.6,456.5 L741.0,456.4 L741.4,456.7 L741.7,456.7 L742.1,456.8 L742.5,456.9 L742.9,457.0 L743.3,457.4 L743.6,457.7 L744.0,457.6 L744.4,457.8 L744.8,458.0 L745.1,457.9 L745.5,458.1 L745.9,458.1 L746.3,458.2 L746.7,458.9 L747.1,459.6 L747.6,460.1 L747.9,459.9 L748.3,460.0 L748.7,459.8 L749.1,459.9 L749.5,459.9 L749.9,460.0 L750.2,460.0 L750.6,460.2 L751.0,460.2 L751.4,460.2 L751.8,460.6 L752.2,461.2 L752.7,461.5 L753.1,461.6 L753.4,461.6 L753.8,461.6 L754.2,461.8 L754.6,461.9 L755.0,461.9 L755.3,461.8 L755.7,461.7 L756.1,461.8 L756.5,461.7 L756.9,461.8 L757.3,461.8 L757.6,461.6 L758.0,461.6 L758.4,461.6 L758.8,461.8 L759.2,461.7 L759.6,461.8 L759.9,461.8 L760.3,462.0 L760.7,461.9 L761.1,461.6 L761.5,461.3 L761.9,461.2 L762.2,461.1 L762.6,461.1 L763.0,461.4 L763.4,461.4 L763.8,461.6 L764.2,461.7 L764.5,461.9 L764.9,461.8 L765.3,462.0 L765.7,462.0 L766.1,462.2 L766.4,462.2 L766.8,462.1 L767.2,462.2 L767.5,462.3 L767.9,462.3 L768.3,462.3 L768.6,462.4 L769.0,462.4 L769.3,462.2 L769.7,462.3 L770.0,462.4 L770.4,462.4 L770.8,462.5 L771.1,462.4 L771.5,462.6 L771.9,462.5 L772.3,462.5 L772.6,462.5 L773.0,462.5 L773.5,462.6 L773.9,462.7 L774.3,462.8 L774.7,462.9 L775.1,462.8 L775.5,462.9 L775.8,463.0 L776.2,463.1 L776.6,463.0 L777.0,463.0 L777.3,463.0 L777.7,463.0 L778.0,462.9 L778.4,462.9 L778.8,462.9 L779.2,462.9 L779.5,463.0 L779.9,463.0 L780.3,463.0 L780.7,463.0 L781.1,463.0 L781.4,462.9 L781.8,462.9 L782.1,463.0 L782.5,462.9 L782.9,462.8 L783.2,462.7 L783.7,462.4 L784.1,462.2 L784.5,461.9 L784.9,462.0 L785.3,461.9 L785.7,461.8 L786.0,461.6 L786.4,461.6 L786.8,461.6 L787.2,461.6 L787.6,461.9 L788.0,461.7 L788.3,461.7 L788.7,461.7 L789.1,461.6 L789.5,461.5 L789.9,461.6 L790.3,461.5 L790.6,461.6 L791.0,461.9 L791.4,462.2 L791.8,461.6 L792.2,460.9 L792.6,460.9 L793.0,460.7 L793.4,460.6 L793.8,460.4 L794.2,460.5 L794.6,460.6 L795.0,460.6 L795.4,460.4 L795.7,460.5 L796.1,460.3 L796.5,460.3 L796.9,460.0 L797.3,460.1 L797.7,460.2 L798.0,460.2 L798.4,460.1 L798.8,460.1 L799.2,460.2 L799.6,460.4 L800.0,460.3 L800.3,460.4 L800.7,460.3 L801.1,460.4 L801.5,460.4 L801.8,460.5 L802.2,460.5 L802.6,460.6 L802.9,460.6 L803.3,460.5 L803.7,460.7 L804.0,460.8 L804.4,460.9 L804.7,460.8 L805.1,460.8 L805.4,460.9 L805.8,460.9 L806.2,460.8 L806.5,460.7 L806.9,460.5 L807.3,460.5 L807.7,460.3 L808.1,460.1 L808.5,459.8 L808.8,459.9 L809.2,459.9 L809.6,459.6 L810.0,459.6 L810.4,459.6 L810.7,459.6 L811.1,459.6 L811.4,459.6 L811.8,459.6 L812.2,460.0 L812.5,459.8 L812.9,459.8 L813.3,459.8 L813.6,459.8 L814.0,459.8 L814.4,459.8 L814.7,460.0 L815.1,459.9 L815.5,460.2 L815.9,460.2 L816.2,460.5 L816.6,460.6 L817.0,460.7 L817.4,460.7 L817.7,460.7 L818.1,460.9 L818.5,460.8 L818.8,460.9 L819.2,460.9 L819.6,461.0 L819.9,460.9 L820.3,461.0 L820.7,461.0 L821.0,460.9 L821.4,460.7 L821.7,460.9 L822.1,460.9 L822.5,460.9 L822.8,460.7 L823.2,460.7 L823.6,460.7 L823.9,460.7 L824.3,460.6 L824.7,460.5 L825.0,460.4 L825.4,460.4 L825.8,460.2 L826.2,459.9 L826.6,459.9 L826.9,459.8 L827.3,459.4 L827.7,459.3 L828.0,459.3 L828.4,459.0 L828.8,458.9 L829.1,458.6 L829.5,458.7 L829.9,458.8 L830.2,458.5 L830.6,458.4 L830.9,458.2 L831.3,458.4 L831.7,458.3 L832.1,458.1 L832.4,458.3 L832.8,458.3 L833.2,458.2 L833.5,458.0 L833.9,457.8 L834.3,457.7 L834.7,457.3 L835.1,457.3 L835.5,457.0 L835.8,457.1 L836.2,456.8 L836.5,456.6 L836.9,456.8 L837.3,456.8 L837.6,456.8 L838.0,456.6 L838.4,456.7 L838.7,456.7 L839.1,456.6 L839.5,457.1 L839.8,457.5 L840.2,457.3 L840.6,457.4 L840.9,457.4 L841.3,457.2 L841.7,456.8 L842.1,456.7 L842.5,456.7 L842.9,456.7 L843.2,456.1 L843.6,455.9 L844.0,455.8 L844.4,455.3 L844.8,455.2 L845.2,454.9 L845.5,454.0 L845.9,453.7 L846.3,453.3 L846.7,452.7 L847.1,452.8 L847.4,451.5 L847.8,451.2 L848.2,450.5 L848.6,451.0 L849.0,451.4 L849.4,451.2 L849.7,451.9 L850.1,451.7 L850.5,451.9 L850.9,451.7 L851.3,451.4 L851.7,451.3 L852.0,451.3 L852.5,451.5 L852.9,451.6 L853.3,451.8 L853.7,452.1 L854.1,452.2 L854.5,452.3 L854.9,452.6 L855.2,452.9 L855.6,452.5 L856.0,452.7 L856.4,452.5 L856.8,452.2 L857.1,452.0 L857.5,452.1 L857.9,451.9 L858.3,451.8 L858.7,451.4 L859.1,451.3 L859.4,450.9 L859.8,450.9 L860.2,450.6 L860.6,450.5 L861.0,450.5 L861.4,450.7 L861.7,450.9 L862.1,451.1 L862.5,451.7 L862.9,451.7 L863.3,451.7 L863.7,452.1 L864.0,452.1 L864.4,452.2 L864.8,452.7 L865.2,452.9 L865.7,453.1 L866.1,454.3 L866.5,453.9 L866.9,453.0 L867.3,452.6 L867.7,452.5 L868.1,451.8 L868.5,451.6 L868.8,451.2 L869.2,451.2 L869.6,451.3 L870.0,452.2 L870.4,452.6 L870.7,453.0 L871.1,453.4 L871.5,452.8 L871.9,452.9 L872.3,452.7 L872.7,452.7 L873.0,452.6 L873.4,453.0 L873.8,453.4 L874.2,454.0 L874.6,454.4 L875.0,454.6 L875.3,454.3 L875.7,454.2 L876.1,453.9 L876.5,453.3 L876.9,453.0 L877.3,452.8 L877.6,452.9 L878.0,452.7 L878.4,452.6 L878.8,452.5 L879.2,452.2 L879.6,452.0 L879.9,451.7 L880.3,451.6 L880.7,452.0 L881.1,451.9 L881.5,452.1 L881.9,451.3 L882.2,451.1 L882.6,451.4 L883.0,451.3 L883.4,451.0 L883.8,450.7 L884.1,450.1 L884.5,449.7 L885.0,448.8 L885.4,447.9 L885.8,446.6 L886.2,446.4 L886.6,446.4 L887.0,445.5 L887.3,445.1 L887.7,445.1 L888.1,444.8 L888.5,444.6 L888.8,445.0 L889.2,444.5 L889.5,443.9 L889.9,444.0 L890.3,443.7 L890.6,443.6 L891.0,443.7 L891.4,444.1 L891.7,444.2 L892.1,445.2 L892.5,445.2 L892.8,445.1 L893.2,444.9 L893.6,444.2 L893.9,443.9 L894.3,443.7 L894.7,443.7 L895.1,443.2 L895.5,443.9 L895.8,444.5 L896.2,444.7 L896.6,444.8 L897.0,444.9 L897.4,444.6 L897.7,444.5 L898.1,444.2 L898.5,444.5 L898.9,444.3 L899.3,444.5 L899.7,444.5 L900.0,444.4 L900.4,444.6 L900.8,444.7 L901.1,445.1 L901.5,445.4 L901.9,445.7 L902.2,446.4 L902.6,446.9 L902.9,447.8 L903.3,448.5 L903.7,447.8 L904.0,447.1 L904.4,446.7 L904.7,446.8 L905.1,447.4 L905.5,447.3 L905.8,447.8 L906.2,448.2 L906.5,448.8 L906.9,448.6 L907.2,448.8 L907.6,449.2 L908.0,449.2 L908.3,448.6 L908.7,447.2 L909.0,446.7 L909.4,446.4 L909.8,446.1 L910.2,445.6 L910.6,445.3 L911.0,445.2 L911.3,445.4 L911.7,445.0 L912.1,444.5 L912.4,444.0 L912.8,443.5 L913.2,443.2 L913.6,443.4 L914.0,443.2 L914.3,443.3 L914.7,442.4 L915.1,442.7 L915.5,442.3 L915.9,443.1 L916.3,442.8 L916.6,443.7 L917.0,443.4 L917.4,443.4 L917.8,442.9 L918.2,443.0 L918.6,443.0 L918.9,443.2 L919.3,442.8 L919.7,442.0 L920.1,441.3 L920.5,441.8 L920.9,441.2 L921.2,440.6 L921.6,440.8 L922.0,440.3 L922.4,440.0 L922.8,439.9 L923.2,439.9 L923.5,440.0 L923.9,439.7 L924.3,440.5 L924.7,440.4 L925.1,439.5 L925.5,439.8 L925.8,440.1 L926.2,439.6 L926.6,440.7 L926.9,440.8 L927.3,441.3 L927.7,441.7 L928.0,441.3 L928.4,440.9 L928.8,441.0 L929.2,441.4 L929.6,441.4 L929.9,441.8 L930.3,441.4 L930.7,440.8 L931.1,441.1 L931.5,440.9 L931.8,441.7 L932.2,442.0 L932.6,441.9 L932.9,441.3 L933.3,440.7 L933.7,440.5 L934.1,439.7 L934.4,439.7 L934.8,439.1 L935.2,440.2 L935.5,440.7 L935.9,440.9 L936.3,441.7 L936.6,441.6 L937.0,442.0 L937.3,442.2 L937.6,441.6 L938.0,441.9 L938.4,442.2 L938.7,442.5 L939.1,442.5 L939.4,443.4 L939.8,443.2 L940.2,444.4 L940.5,444.9 L940.9,444.9 L941.2,445.3 L941.6,445.5 L942.0,445.6 L942.4,448.1" fill="none" stroke="#52c09c" stroke-width="1.7"/>
<text transform="translate(167.90,473.60) scale(0.8134,1)" font-size="10.5" font-weight="normal" fill="#6e6e6e" >2012</text>
<text transform="translate(279.00,473.60) scale(0.8134,1)" font-size="10.5" font-weight="normal" fill="#6e6e6e" >2014</text>
<text transform="translate(389.00,473.60) scale(0.8134,1)" font-size="10.5" font-weight="normal" fill="#6e6e6e" >2016</text>
<text transform="translate(498.80,473.60) scale(0.8134,1)" font-size="10.5" font-weight="normal" fill="#6e6e6e" >2018</text>
<text transform="translate(608.80,473.60) scale(0.8134,1)" font-size="10.5" font-weight="normal" fill="#6e6e6e" >2020</text>
<text transform="translate(718.80,473.60) scale(0.8134,1)" font-size="10.5" font-weight="normal" fill="#6e6e6e" >2022</text>
<text transform="translate(829.00,473.60) scale(0.8134,1)" font-size="10.5" font-weight="normal" fill="#6e6e6e" >2024</text>
<text transform="translate(894.80,497.00) scale(0.6408,1)" font-size="11" font-weight="normal" fill="#777777" >CanvasJS.com</text>
<text transform="translate(902.50,434.70) scale(0.7420,1)" font-size="9.5" font-weight="normal" fill="#707070" >CanvasJS.com</text>
<path d="M461.8,494.4 L465.15,488 L468.5,494.4 Z" fill="#5a6aa6"/>
<text transform="translate(471.50,494.00) scale(0.8418,1)" font-size="9.5" font-weight="bold" fill="#3f3f3f" >MET Value</text>
<path d="M519.3,494.6 L523,487.8 L526.6,494.6 Z" fill="#4dc39b"/>
<text transform="translate(529.00,494.00) scale(0.8782,1)" font-size="9.5" font-weight="bold" fill="#3f3f3f" >Bitcoin Price</text>
<text transform="translate(96.50,493.50) scale(0.7766,1)" font-size="9" font-weight="normal" fill="#999999" >CanvasJS Trial</text>
<rect x="486.6" y="495" width="457" height="1" fill="#cccccc"/>
<rect x="96.5" y="433" width="390.1" height="62.6" fill="#dbe6f7" fill-opacity="0.65"/>
<rect x="96.5" y="433" width="390.1" height="1" fill="#c4ccd6"/>
<rect x="486.1" y="433" width="1" height="62.6" fill="#c4ccd6"/>
<rect x="483" y="455.5" width="7" height="16" fill="#f8f8f8" stroke="#b8b8b8" stroke-width="1"/>
<rect x="485.2" y="459" width="0.7" height="9" fill="#aaa"/>
<rect x="487.6" y="459" width="0.7" height="9" fill="#aaa"/>
<rect x="940.5" y="455.5" width="2.5" height="16" fill="#f5f5f5" stroke="#c0c0c0" stroke-width="1"/>
</g>
<rect x="943" y="57" width="10" height="444" fill="#efefef"/>
<rect x="945" y="75" width="6" height="418" fill="#8a8a8a"/>
</svg></body></html>
